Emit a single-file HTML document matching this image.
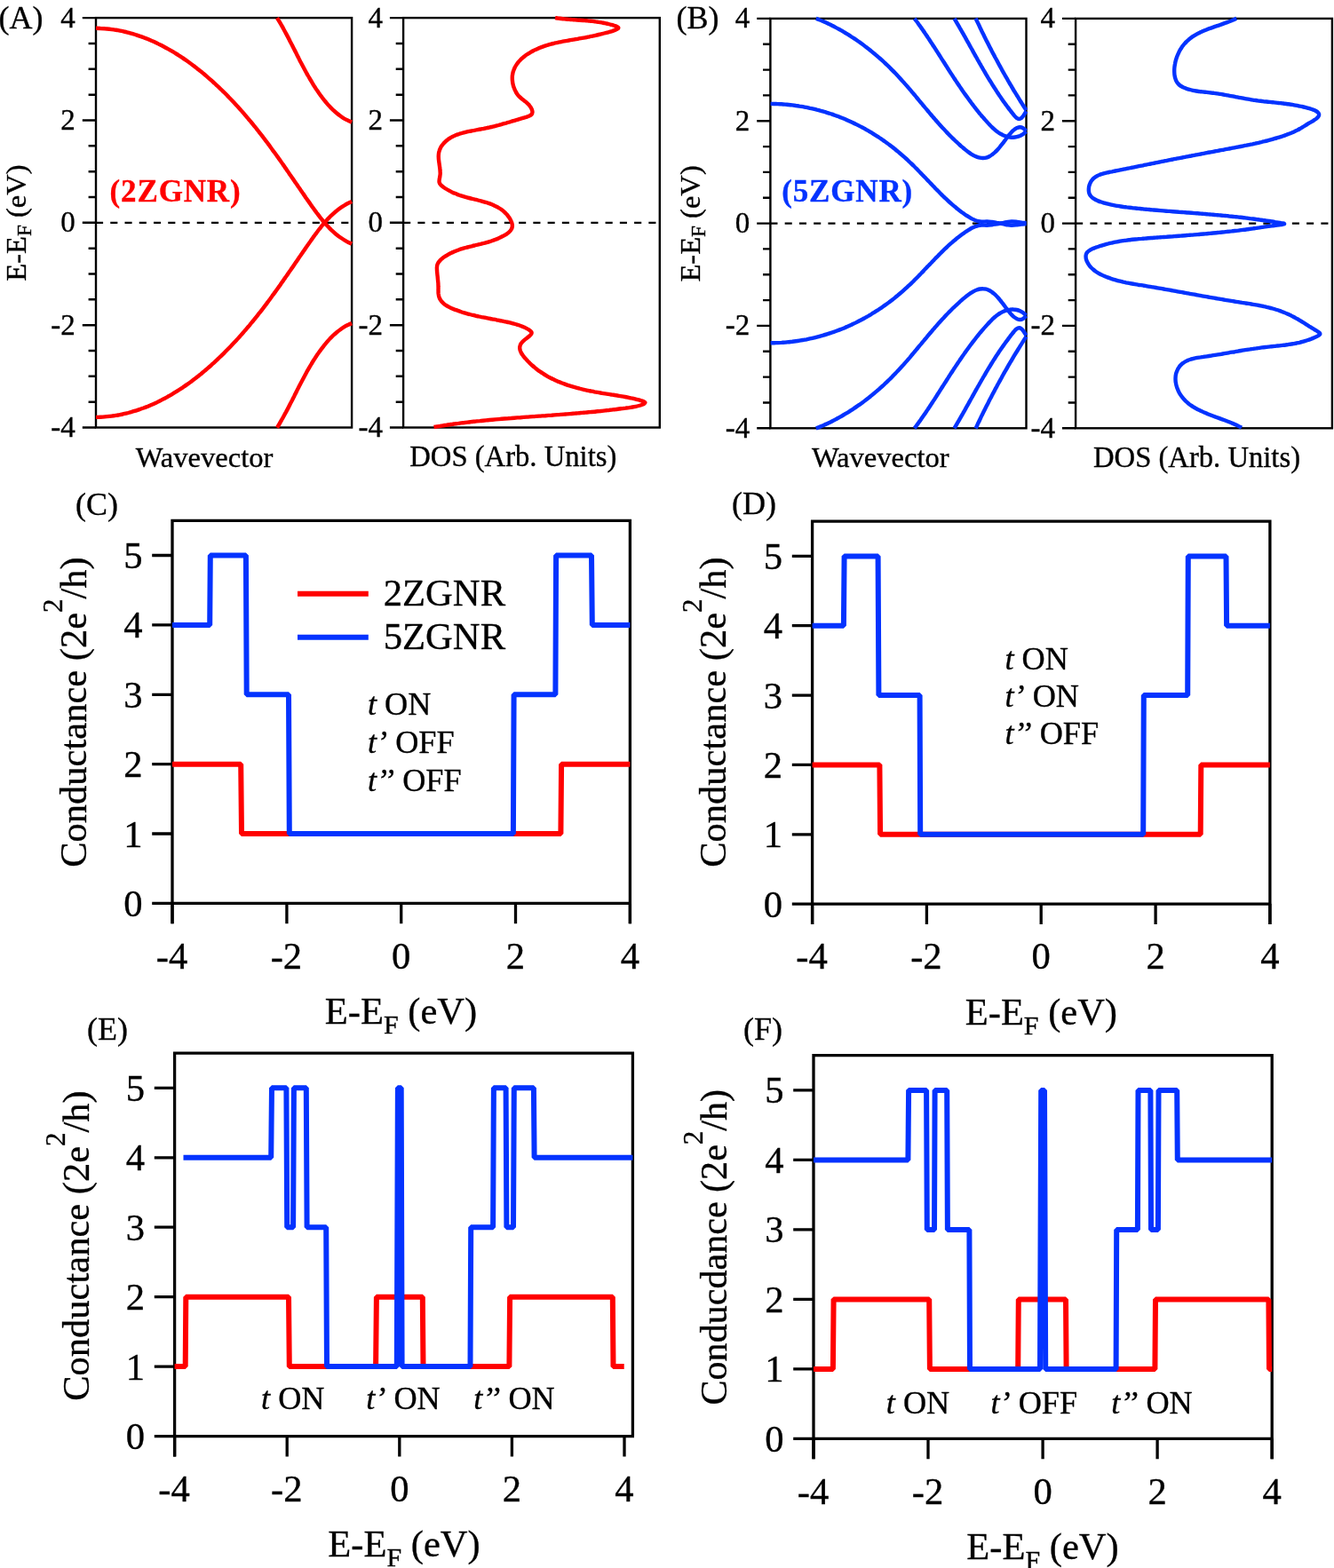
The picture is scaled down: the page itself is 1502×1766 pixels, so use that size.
<!DOCTYPE html>
<html lang="en"><head><meta charset="utf-8"><title>ZGNR band structure, DOS and conductance</title>
<style>html,body{margin:0;padding:0;background:#fff}svg{display:block}text{fill:#000;stroke:#000;stroke-width:0.35px}</style></head><body>
<svg width="1502" height="1766" viewBox="0 0 1502 1766">
<rect width="1502" height="1766" fill="#fff"/>
<path d="M108 250.8H396.1" stroke="#000" stroke-width="2.3" stroke-dasharray="8.1 8.15" fill="none"/>
<path d="M454.1 250.8H742.8" stroke="#000" stroke-width="2.3" stroke-dasharray="8.1 8.15" fill="none"/>
<rect x="108" y="20.1" width="288.1" height="461.4" fill="none" stroke="#000" stroke-width="2.4"/>
<path d="M92.8 20.1H108M99.6 49H108M99.6 77.8H108M99.6 106.7H108M92.8 135.5H108M99.6 164.3H108M99.6 193.2H108M99.6 222H108M92.8 250.8H108M99.6 279.7H108M99.6 308.5H108M99.6 337.3H108M92.8 366.2H108M99.6 395H108M99.6 423.8H108M99.6 452.7H108M92.8 481.5H108" stroke="#000" stroke-width="2.4" fill="none"/>
<text x="84.8" y="30.5" font-family='"Liberation Serif", serif' font-size="33" text-anchor="end" >4</text>
<text x="84.8" y="145.9" font-family='"Liberation Serif", serif' font-size="33" text-anchor="end" >2</text>
<text x="84.8" y="261.2" font-family='"Liberation Serif", serif' font-size="33" text-anchor="end" >0</text>
<text x="84.8" y="376.6" font-family='"Liberation Serif", serif' font-size="33" text-anchor="end" >-2</text>
<text x="84.8" y="491.9" font-family='"Liberation Serif", serif' font-size="33" text-anchor="end" >-4</text>
<rect x="454.1" y="20.1" width="288.7" height="461.4" fill="none" stroke="#000" stroke-width="2.4"/>
<path d="M438.9 20.1H454.1M445.7 49H454.1M445.7 77.8H454.1M445.7 106.7H454.1M438.9 135.5H454.1M445.7 164.3H454.1M445.7 193.2H454.1M445.7 222H454.1M438.9 250.8H454.1M445.7 279.7H454.1M445.7 308.5H454.1M445.7 337.3H454.1M438.9 366.2H454.1M445.7 395H454.1M445.7 423.8H454.1M445.7 452.7H454.1M438.9 481.5H454.1" stroke="#000" stroke-width="2.4" fill="none"/>
<text x="430.9" y="30.5" font-family='"Liberation Serif", serif' font-size="33" text-anchor="end" >4</text>
<text x="430.9" y="145.9" font-family='"Liberation Serif", serif' font-size="33" text-anchor="end" >2</text>
<text x="430.9" y="261.2" font-family='"Liberation Serif", serif' font-size="33" text-anchor="end" >0</text>
<text x="430.9" y="376.6" font-family='"Liberation Serif", serif' font-size="33" text-anchor="end" >-2</text>
<text x="430.9" y="491.9" font-family='"Liberation Serif", serif' font-size="33" text-anchor="end" >-4</text>
<path d="M108 31.8C108.8 31.8 111.4 31.9 113.1 32C114.8 32 116.5 32.1 118.1 32.3C119.8 32.4 121.5 32.6 123.2 32.8C124.8 33 126.5 33.2 128.1 33.4C129.8 33.7 131.4 33.9 133.1 34.2C134.7 34.5 136.3 34.9 138 35.2C139.6 35.6 141.2 35.9 142.8 36.3C144.4 36.7 146 37.2 147.6 37.6C149.2 38 150.8 38.5 152.4 39C153.9 39.5 155.5 40 157.1 40.6C158.6 41.1 160.2 41.7 161.7 42.2C163.3 42.8 164.8 43.4 166.4 44C167.9 44.7 169.4 45.3 171 46C172.5 46.6 174 47.3 175.5 48C177 48.7 178.5 49.5 180 50.2C181.5 50.9 183 51.7 184.4 52.5C185.9 53.3 187.4 54.1 188.8 54.9C190.3 55.7 191.7 56.5 193.2 57.4C194.6 58.2 196.1 59.1 197.5 60C198.9 60.8 200.3 61.7 201.7 62.7C203.1 63.6 204.5 64.5 205.9 65.4C207.3 66.4 208.7 67.3 210.1 68.3C211.5 69.3 212.9 70.3 214.2 71.2C215.6 72.2 216.9 73.3 218.3 74.3C219.6 75.3 221 76.3 222.3 77.4C223.6 78.4 224.9 79.5 226.3 80.5C227.6 81.6 228.9 82.7 230.2 83.8C231.5 84.9 232.7 86 234 87.1C235.3 88.2 236.6 89.3 237.8 90.4C239.1 91.6 240.4 92.7 241.6 93.8C242.8 95 244.1 96.1 245.3 97.3C246.5 98.5 247.7 99.6 249 100.8C250.2 102 251.4 103.1 252.6 104.3C253.8 105.5 254.9 106.7 256.1 107.9C257.3 109.1 258.4 110.3 259.6 111.5C260.8 112.7 261.9 113.9 263 115.1C264.2 116.4 265.3 117.6 266.4 118.8C267.6 120 268.7 121.3 269.8 122.5C270.9 123.7 272 125 273.1 126.2C274.1 127.4 275.2 128.7 276.3 129.9C277.4 131.2 278.4 132.4 279.5 133.7C280.6 134.9 281.6 136.2 282.7 137.5C283.7 138.7 284.8 140 285.8 141.3C286.8 142.6 287.9 143.8 288.9 145.1C289.9 146.4 290.9 147.7 291.9 149C293 150.3 294 151.6 295 152.9C296 154.2 297 155.5 298 156.8C299 158.1 300 159.4 301 160.8C301.9 162.1 302.9 163.4 303.9 164.7C304.9 166.1 305.9 167.4 306.8 168.8C307.8 170.1 308.8 171.4 309.8 172.8C310.7 174.1 311.7 175.5 312.7 176.8C313.6 178.2 314.6 179.6 315.6 180.9C316.5 182.3 317.5 183.7 318.5 185C319.4 186.4 320.4 187.8 321.3 189.2C322.3 190.5 323.2 191.9 324.2 193.3C325.2 194.7 326.1 196.1 327.1 197.5C328 198.8 329 200.2 330 201.6C330.9 203 331.9 204.4 332.8 205.8C333.8 207.2 334.8 208.6 335.7 210C336.7 211.4 337.6 212.8 338.6 214.2C339.6 215.6 340.6 217 341.5 218.4C342.5 219.8 343.5 221.3 344.4 222.7C345.4 224.1 346.4 225.5 347.4 226.9C348.4 228.3 349.4 229.7 350.3 231.1C351.3 232.5 352.3 233.9 353.3 235.3C354.3 236.7 355.4 238.1 356.4 239.5C357.4 240.8 358.4 242.2 359.5 243.5C360.5 244.9 361.6 246.2 362.6 247.5C363.7 248.8 364.8 250.1 365.9 251.4C367 252.6 368.1 253.9 369.2 255.1C370.3 256.3 371.5 257.4 372.6 258.6C373.8 259.7 375 260.8 376.2 261.9C377.4 263 378.6 264 379.9 265C381.1 266 382.4 266.9 383.7 267.8C385 268.7 386.3 269.6 387.7 270.4C389 271.2 390.4 272 391.8 272.7C393.2 273.4 395.4 274.3 396.1 274.6" stroke="#ff0000" stroke-width="4.4" fill="none" stroke-linejoin="round" stroke-linecap="butt"/>
<path d="M108 469.9C108.8 469.9 111.4 469.8 113.1 469.7C114.8 469.7 116.5 469.6 118.1 469.4C119.8 469.3 121.5 469.1 123.2 468.9C124.8 468.7 126.5 468.5 128.1 468.3C129.8 468 131.4 467.8 133.1 467.5C134.7 467.2 136.3 466.8 138 466.5C139.6 466.1 141.2 465.8 142.8 465.4C144.4 465 146 464.5 147.6 464.1C149.2 463.7 150.8 463.2 152.4 462.7C153.9 462.2 155.5 461.7 157.1 461.1C158.6 460.6 160.2 460 161.7 459.5C163.3 458.9 164.8 458.3 166.4 457.7C167.9 457 169.4 456.4 171 455.7C172.5 455.1 174 454.4 175.5 453.7C177 453 178.5 452.2 180 451.5C181.5 450.8 183 450 184.4 449.2C185.9 448.4 187.4 447.6 188.8 446.8C190.3 446 191.7 445.2 193.2 444.3C194.6 443.5 196.1 442.6 197.5 441.7C198.9 440.9 200.3 440 201.7 439C203.1 438.1 204.5 437.2 205.9 436.3C207.3 435.3 208.7 434.4 210.1 433.4C211.5 432.4 212.9 431.4 214.2 430.5C215.6 429.5 216.9 428.4 218.3 427.4C219.6 426.4 221 425.4 222.3 424.3C223.6 423.3 224.9 422.2 226.3 421.2C227.6 420.1 228.9 419 230.2 417.9C231.5 416.8 232.7 415.7 234 414.6C235.3 413.5 236.6 412.4 237.8 411.3C239.1 410.1 240.4 409 241.6 407.9C242.8 406.7 244.1 405.6 245.3 404.4C246.5 403.2 247.7 402.1 249 400.9C250.2 399.7 251.4 398.6 252.6 397.4C253.8 396.2 254.9 395 256.1 393.8C257.3 392.6 258.4 391.4 259.6 390.2C260.8 389 261.9 387.8 263 386.6C264.2 385.3 265.3 384.1 266.4 382.9C267.6 381.7 268.7 380.4 269.8 379.2C270.9 378 272 376.7 273.1 375.5C274.1 374.3 275.2 373 276.3 371.8C277.4 370.5 278.4 369.3 279.5 368C280.6 366.8 281.6 365.5 282.7 364.2C283.7 363 284.8 361.7 285.8 360.4C286.8 359.1 287.9 357.9 288.9 356.6C289.9 355.3 290.9 354 291.9 352.7C293 351.4 294 350.1 295 348.8C296 347.5 297 346.2 298 344.9C299 343.6 300 342.3 301 340.9C301.9 339.6 302.9 338.3 303.9 337C304.9 335.6 305.9 334.3 306.8 332.9C307.8 331.6 308.8 330.3 309.8 328.9C310.7 327.6 311.7 326.2 312.7 324.9C313.6 323.5 314.6 322.1 315.6 320.8C316.5 319.4 317.5 318 318.5 316.7C319.4 315.3 320.4 313.9 321.3 312.5C322.3 311.2 323.2 309.8 324.2 308.4C325.2 307 326.1 305.6 327.1 304.2C328 302.9 329 301.5 330 300.1C330.9 298.7 331.9 297.3 332.8 295.9C333.8 294.5 334.8 293.1 335.7 291.7C336.7 290.3 337.6 288.9 338.6 287.5C339.6 286.1 340.6 284.7 341.5 283.3C342.5 281.9 343.5 280.4 344.4 279C345.4 277.6 346.4 276.2 347.4 274.8C348.4 273.4 349.4 272 350.3 270.6C351.3 269.2 352.3 267.8 353.3 266.4C354.3 265 355.4 263.6 356.4 262.2C357.4 260.9 358.4 259.5 359.5 258.2C360.5 256.8 361.6 255.5 362.6 254.2C363.7 252.9 364.8 251.6 365.9 250.3C367 249.1 368.1 247.8 369.2 246.6C370.3 245.4 371.5 244.3 372.6 243.1C373.8 242 375 240.9 376.2 239.8C377.4 238.7 378.6 237.7 379.9 236.7C381.1 235.7 382.4 234.8 383.7 233.9C385 233 386.3 232.1 387.7 231.3C389 230.5 390.4 229.7 391.8 229C393.2 228.3 395.4 227.4 396.1 227.1" stroke="#ff0000" stroke-width="4.4" fill="none" stroke-linejoin="round" stroke-linecap="butt"/>
<path d="M312 20.1C312.4 20.8 313.8 23 314.6 24.4C315.5 25.9 316.3 27.3 317.1 28.8C318 30.2 318.8 31.7 319.6 33.2C320.4 34.7 321.2 36.2 322 37.6C322.8 39.1 323.6 40.6 324.4 42.1C325.2 43.6 326 45.2 326.7 46.7C327.5 48.2 328.3 49.7 329.1 51.2C329.8 52.7 330.6 54.2 331.4 55.8C332.1 57.3 332.9 58.8 333.7 60.3C334.4 61.9 335.2 63.4 336 64.9C336.7 66.4 337.5 67.9 338.3 69.5C339.1 71 339.9 72.5 340.7 74C341.5 75.5 342.3 77 343.1 78.5C343.9 80 344.7 81.5 345.5 83C346.4 84.5 347.2 86 348.1 87.4C348.9 88.9 349.8 90.4 350.7 91.8C351.5 93.3 352.4 94.8 353.3 96.2C354.3 97.6 355.2 99.1 356.1 100.5C357.1 101.9 358 103.3 359 104.7C360 106.1 361 107.5 362 108.8C363 110.2 364.1 111.6 365.1 112.9C366.2 114.2 367.3 115.5 368.4 116.8C369.5 118.1 370.7 119.4 371.8 120.6C373 121.8 374.2 123 375.4 124.2C376.6 125.3 377.9 126.4 379.2 127.5C380.4 128.5 381.8 129.6 383.1 130.5C384.4 131.5 385.8 132.4 387.2 133.3C388.6 134.1 390.1 134.9 391.6 135.6C393 136.4 395.3 137.3 396.1 137.6" stroke="#ff0000" stroke-width="4.4" fill="none" stroke-linejoin="round" stroke-linecap="butt"/>
<path d="M312 481.6C312.4 480.9 313.8 478.7 314.6 477.3C315.5 475.8 316.3 474.4 317.1 472.9C318 471.5 318.8 470 319.6 468.5C320.4 467 321.2 465.5 322 464.1C322.8 462.6 323.6 461.1 324.4 459.6C325.2 458.1 326 456.5 326.7 455C327.5 453.5 328.3 452 329.1 450.5C329.8 449 330.6 447.5 331.4 445.9C332.1 444.4 332.9 442.9 333.7 441.4C334.4 439.8 335.2 438.3 336 436.8C336.7 435.3 337.5 433.8 338.3 432.2C339.1 430.7 339.9 429.2 340.7 427.7C341.5 426.2 342.3 424.7 343.1 423.2C343.9 421.7 344.7 420.2 345.5 418.7C346.4 417.2 347.2 415.7 348.1 414.3C348.9 412.8 349.8 411.3 350.7 409.9C351.5 408.4 352.4 406.9 353.3 405.5C354.3 404.1 355.2 402.6 356.1 401.2C357.1 399.8 358 398.4 359 397C360 395.6 361 394.2 362 392.9C363 391.5 364.1 390.1 365.1 388.8C366.2 387.5 367.3 386.2 368.4 384.9C369.5 383.6 370.7 382.3 371.8 381.1C373 379.9 374.2 378.7 375.4 377.5C376.6 376.4 377.9 375.3 379.2 374.2C380.4 373.2 381.8 372.1 383.1 371.2C384.4 370.2 385.8 369.3 387.2 368.4C388.6 367.6 390.1 366.8 391.6 366.1C393 365.3 395.3 364.4 396.1 364.1" stroke="#ff0000" stroke-width="4.4" fill="none" stroke-linejoin="round" stroke-linecap="butt"/>
<path d="M625.1 20.1C625.7 20.2 627.4 20.4 628.5 20.6C629.7 20.7 630.8 20.9 632 21C633.1 21.1 634.3 21.3 635.4 21.4C636.6 21.5 637.8 21.6 638.9 21.7C640.1 21.8 641.2 21.9 642.4 22C643.6 22.1 644.7 22.1 645.9 22.2C647.1 22.3 648.2 22.4 649.4 22.5C650.6 22.5 651.8 22.6 652.9 22.7C654.1 22.8 655.3 22.9 656.4 23C657.6 23.1 658.8 23.1 660 23.2C661.1 23.3 662.3 23.5 663.5 23.6C664.7 23.7 665.8 23.8 667 23.9C668.2 24.1 669.3 24.2 670.5 24.4C671.7 24.5 672.8 24.7 674 24.9C675.2 25 676.4 25.2 677.5 25.4C678.7 25.6 679.8 25.9 681 26.1C682.2 26.3 683.3 26.6 684.5 26.9C685.6 27.2 686.8 27.5 688 27.8C689.1 28.1 690.3 28.4 691.4 28.8C692.5 29.2 693.8 29.6 694.7 30C695.5 30.4 696.3 30.8 696.3 31.3C696.4 31.7 695.8 32.2 695.1 32.6C694.4 33 693.4 33.5 692.4 33.9C691.4 34.3 690.3 34.7 689.2 35.1C688 35.5 686.8 35.8 685.6 36.2C684.4 36.5 683.1 36.9 681.8 37.2C680.6 37.5 679.3 37.8 678 38.1C676.7 38.4 675.4 38.7 674.2 39C673 39.3 671.7 39.6 670.6 39.8C669.4 40.1 668.2 40.4 667.1 40.6C666 40.8 664.8 41.1 663.7 41.3C662.6 41.5 661.5 41.8 660.5 42C659.4 42.2 658.3 42.4 657.2 42.6C656.1 42.8 655 43 654 43.2C652.9 43.4 651.8 43.6 650.6 43.8C649.5 44 648.4 44.2 647.3 44.3C646.2 44.5 645 44.7 643.9 44.9C642.8 45.1 641.6 45.3 640.5 45.5C639.4 45.7 638.2 45.9 637.1 46.1C635.9 46.3 634.8 46.5 633.6 46.7C632.5 46.9 631.3 47.2 630.2 47.4C629 47.6 627.9 47.9 626.7 48.2C625.6 48.4 624.4 48.7 623.3 49C622.1 49.2 621 49.5 619.8 49.8C618.7 50.2 617.5 50.5 616.4 50.8C615.3 51.2 614.1 51.5 613 51.9C611.9 52.3 610.8 52.7 609.6 53.1C608.5 53.5 607.4 54 606.3 54.4C605.2 54.9 604.1 55.4 603 55.9C602 56.4 600.9 57 599.8 57.5C598.8 58.1 597.7 58.7 596.7 59.3C595.7 59.9 594.7 60.5 593.7 61.2C592.7 61.8 591.7 62.5 590.8 63.2C589.9 63.9 589 64.7 588.1 65.4C587.3 66.2 586.4 67 585.7 67.8C584.9 68.6 584.1 69.4 583.4 70.3C582.7 71.1 582.1 72 581.5 72.9C580.9 73.8 580.3 74.8 579.8 75.7C579.3 76.7 578.9 77.7 578.5 78.7C578.1 79.7 577.8 80.8 577.5 81.8C577.3 82.9 577.1 84 576.9 85.1C576.8 86.2 576.8 87.4 576.8 88.6C576.8 89.7 576.9 91 577.1 92.2C577.2 93.4 577.5 94.6 577.8 95.9C578.1 97.1 578.5 98.3 579 99.5C579.4 100.7 580 101.9 580.6 103C581.1 104.1 581.8 105.2 582.5 106.2C583.2 107.2 584 108.1 584.8 108.9C585.6 109.7 586.5 110.5 587.4 111.2C588.3 111.9 589.2 112.6 590.1 113.3C590.9 114 591.9 114.7 592.7 115.4C593.6 116.2 594.4 116.9 595.2 117.7C595.9 118.6 596.7 119.5 597.3 120.4C597.9 121.4 598.5 122.4 598.8 123.4C599.2 124.4 599.5 125.4 599.5 126.3C599.4 127.2 599.2 128.1 598.6 128.8C598 129.5 597 130.1 596 130.6C594.9 131.1 593.5 131.5 592.3 131.9C591 132.3 589.7 132.7 588.4 133C587.2 133.4 585.9 133.8 584.7 134.1C583.5 134.5 582.3 134.9 581.1 135.2C580 135.6 578.8 135.9 577.7 136.2C576.5 136.6 575.4 136.9 574.3 137.3C573.2 137.6 572.1 137.9 571 138.2C569.9 138.6 568.8 138.9 567.7 139.2C566.6 139.5 565.5 139.8 564.5 140.1C563.4 140.4 562.3 140.7 561.3 141C560.2 141.3 559.1 141.5 558 141.8C557 142.1 555.9 142.4 554.8 142.6C553.7 142.9 552.6 143.1 551.5 143.4C550.4 143.6 549.3 143.9 548.2 144.1C547.1 144.4 545.9 144.6 544.8 144.8C543.6 145 542.4 145.3 541.3 145.5C540.1 145.7 538.9 145.9 537.7 146.1C536.5 146.3 535.3 146.5 534.1 146.8C532.9 147 531.7 147.2 530.5 147.5C529.3 147.7 528 148 526.9 148.2C525.7 148.5 524.5 148.8 523.3 149.1C522.1 149.4 520.9 149.7 519.8 150C518.6 150.4 517.5 150.7 516.4 151.1C515.2 151.5 514.1 151.9 513.1 152.3C512 152.8 510.9 153.3 509.9 153.8C508.9 154.3 507.9 154.8 506.9 155.4C506 156 505 156.6 504.1 157.3C503.2 157.9 502.4 158.6 501.6 159.4C500.7 160.1 500 160.9 499.3 161.7C498.5 162.5 497.9 163.4 497.3 164.3C496.7 165.2 496.1 166.2 495.7 167.2C495.2 168.2 494.8 169.2 494.5 170.3C494.2 171.3 494 172.4 493.9 173.6C493.8 174.7 493.7 175.9 493.8 177.1C493.8 178.3 493.9 179.5 494.1 180.8C494.2 182 494.4 183.3 494.6 184.5C494.7 185.8 495 187 495.1 188.3C495.3 189.5 495.5 190.8 495.5 192C495.6 193.2 495.7 194.5 495.7 195.6C495.6 196.8 495.4 197.9 495.3 199C495.1 200.1 494.8 201.2 494.7 202.2C494.6 203.2 494.4 204.2 494.6 205.2C494.8 206.1 495.3 207 495.9 207.9C496.6 208.7 497.6 209.5 498.6 210.3C499.6 211.1 500.7 211.8 501.8 212.5C502.9 213.2 504 213.8 505.1 214.4C506.2 215 507.3 215.6 508.3 216.1C509.4 216.7 510.5 217.2 511.6 217.6C512.7 218.1 513.8 218.5 514.9 218.9C516 219.4 517.1 219.7 518.2 220.1C519.3 220.5 520.4 220.8 521.5 221.2C522.6 221.5 523.7 221.8 524.8 222.1C525.9 222.4 527.1 222.7 528.2 223C529.3 223.3 530.4 223.6 531.5 223.8C532.6 224.1 533.7 224.4 534.8 224.7C536 224.9 537.1 225.2 538.2 225.5C539.3 225.8 540.4 226.1 541.6 226.4C542.7 226.7 543.8 227 544.9 227.3C546.1 227.6 547.2 227.9 548.3 228.3C549.4 228.7 550.5 229 551.6 229.4C552.7 229.8 553.8 230.3 554.9 230.7C555.9 231.2 557 231.7 558 232.2C559.1 232.7 560.1 233.2 561.1 233.8C562.1 234.4 563.1 235.1 564.1 235.7C565 236.4 566 237.1 566.9 237.9C567.8 238.7 568.6 239.5 569.5 240.4C570.3 241.3 571.2 242.2 571.9 243.2C572.7 244.1 573.4 245.2 574.1 246.2C574.7 247.3 575.3 248.4 575.7 249.5C576.2 250.5 576.5 251.6 576.7 252.7C576.9 253.7 576.9 254.7 576.7 255.7C576.5 256.7 576.1 257.6 575.6 258.5C575.1 259.4 574.4 260.2 573.6 261C572.9 261.7 571.9 262.5 570.9 263.2C570 263.9 568.9 264.5 567.8 265.1C566.7 265.8 565.6 266.3 564.5 266.9C563.3 267.4 562.2 267.9 561.1 268.4C560 268.9 558.9 269.4 557.8 269.8C556.7 270.2 555.6 270.6 554.5 271C553.4 271.4 552.3 271.8 551.2 272.1C550 272.5 548.9 272.8 547.8 273.1C546.7 273.4 545.6 273.7 544.5 274C543.4 274.3 542.2 274.6 541.1 274.9C540 275.1 538.9 275.4 537.8 275.7C536.6 275.9 535.5 276.2 534.4 276.5C533.3 276.7 532.1 277 531 277.3C529.9 277.5 528.8 277.8 527.7 278.1C526.5 278.4 525.4 278.7 524.3 279C523.2 279.3 522.1 279.6 521 279.9C519.9 280.3 518.7 280.6 517.6 281C516.5 281.4 515.4 281.8 514.3 282.2C513.2 282.6 512.1 283 511 283.5C510 284 508.9 284.5 507.8 285C506.7 285.5 505.6 286.1 504.6 286.7C503.5 287.3 502.4 287.9 501.4 288.6C500.4 289.3 499.3 290 498.4 290.7C497.4 291.5 496.5 292.3 495.7 293.1C494.9 293.9 494.2 294.8 493.6 295.6C493.1 296.5 492.6 297.5 492.3 298.4C492.1 299.4 492 300.4 491.9 301.5C491.9 302.5 492 303.6 492 304.7C492.1 305.8 492.2 306.9 492.3 308.1C492.4 309.3 492.5 310.5 492.7 311.7C492.8 312.9 492.9 314.2 493 315.4C493.2 316.7 493.3 318 493.4 319.2C493.4 320.5 493.5 321.8 493.5 323C493.6 324.3 493.5 325.6 493.5 326.9C493.6 328.1 493.5 329.3 493.6 330.5C493.8 331.7 493.9 332.8 494.2 333.9C494.5 334.9 494.9 335.9 495.4 336.9C495.9 337.8 496.5 338.7 497.2 339.5C497.9 340.3 498.7 341.1 499.5 341.8C500.3 342.5 501.2 343.2 502.2 343.8C503.1 344.4 504.2 345 505.2 345.6C506.2 346.1 507.3 346.7 508.4 347.2C509.5 347.7 510.7 348.1 511.8 348.6C512.9 349 514.1 349.4 515.2 349.8C516.3 350.3 517.4 350.6 518.6 351C519.7 351.4 520.8 351.8 521.9 352.1C523.1 352.4 524.2 352.8 525.3 353.1C526.4 353.4 527.6 353.7 528.7 354C529.8 354.3 530.9 354.6 532 354.8C533.2 355.1 534.3 355.4 535.4 355.6C536.5 355.9 537.7 356.1 538.8 356.4C539.9 356.6 541 356.8 542.2 357.1C543.3 357.3 544.4 357.5 545.5 357.7C546.7 358 547.8 358.2 548.9 358.4C550.1 358.6 551.2 358.8 552.3 359C553.5 359.2 554.6 359.5 555.8 359.7C556.9 359.9 558 360.1 559.2 360.3C560.3 360.5 561.5 360.8 562.6 361C563.8 361.2 565 361.5 566.1 361.7C567.3 361.9 568.4 362.2 569.6 362.4C570.8 362.7 572 362.9 573.1 363.2C574.3 363.5 575.5 363.8 576.6 364.1C577.8 364.4 579 364.7 580.1 365C581.3 365.3 582.4 365.7 583.5 366C584.7 366.4 585.8 366.8 586.9 367.2C588 367.7 589.1 368.1 590.1 368.6C591.2 369.1 592.2 369.6 593.2 370.1C594.2 370.6 595.3 371.2 596.1 371.8C597 372.4 597.9 373.1 598.3 373.8C598.7 374.5 598.7 375.2 598.3 376C598 376.7 597.1 377.6 596.2 378.4C595.4 379.2 594.1 380.1 593 381C591.9 381.8 590.7 382.7 589.7 383.6C588.7 384.5 587.8 385.4 587.1 386.3C586.4 387.3 585.9 388.2 585.6 389.2C585.3 390.1 585.2 391.1 585.2 392.1C585.3 393 585.5 394 585.8 395C586.2 396 586.6 397 587.2 398C587.8 399 588.5 399.9 589.2 400.9C589.9 401.9 590.7 402.8 591.5 403.7C592.3 404.7 593.2 405.6 594 406.5C594.9 407.4 595.7 408.2 596.6 409.1C597.5 409.9 598.3 410.7 599.2 411.5C600.1 412.3 601 413.1 602 413.9C602.9 414.6 603.8 415.4 604.7 416.1C605.7 416.8 606.6 417.5 607.6 418.2C608.5 418.8 609.5 419.5 610.5 420.1C611.4 420.8 612.4 421.4 613.4 422C614.4 422.6 615.4 423.2 616.4 423.8C617.4 424.4 618.4 424.9 619.5 425.5C620.5 426 621.5 426.5 622.6 427C623.6 427.5 624.7 428 625.7 428.5C626.8 429 627.8 429.4 628.9 429.9C630 430.3 631 430.8 632.1 431.2C633.2 431.6 634.3 432 635.4 432.4C636.4 432.8 637.5 433.2 638.6 433.6C639.7 434 640.9 434.3 642 434.7C643.1 435 644.2 435.4 645.3 435.7C646.4 436 647.5 436.3 648.7 436.6C649.8 436.9 650.9 437.2 652.1 437.5C653.2 437.8 654.3 438.1 655.5 438.4C656.6 438.6 657.7 438.9 658.9 439.2C660 439.4 661.2 439.7 662.3 439.9C663.5 440.1 664.6 440.4 665.8 440.6C666.9 440.8 668.1 441 669.2 441.3C670.4 441.5 671.5 441.7 672.7 441.9C673.8 442.1 675 442.3 676.1 442.5C677.3 442.7 678.4 442.9 679.6 443.1C680.7 443.3 681.9 443.5 683 443.6C684.2 443.8 685.3 444 686.5 444.2C687.6 444.4 688.8 444.5 689.9 444.7C691.1 444.9 692.2 445.1 693.3 445.2C694.5 445.4 695.6 445.6 696.8 445.8C697.9 446 699.1 446.2 700.2 446.4C701.4 446.6 702.5 446.8 703.7 447C704.8 447.2 706 447.4 707.2 447.6C708.3 447.9 709.5 448.1 710.7 448.4C711.8 448.6 713 448.9 714.2 449.2C715.4 449.5 716.6 449.8 717.8 450.1C719 450.4 720.3 450.7 721.4 451.1C722.6 451.4 723.9 451.8 724.8 452.2C725.6 452.6 726.3 453 726.4 453.4C726.5 453.8 725.9 454.3 725.2 454.8C724.6 455.2 723.5 455.6 722.5 456C721.5 456.4 720.4 456.7 719.3 457C718.2 457.3 717 457.6 715.8 457.8C714.6 458.1 713.4 458.3 712.1 458.5C710.8 458.7 709.6 458.9 708.3 459.1C707 459.2 705.8 459.4 704.5 459.6C703.3 459.7 702 459.9 700.8 460.1C699.6 460.2 698.3 460.4 697.1 460.5C695.9 460.7 694.7 460.8 693.6 461C692.4 461.1 691.2 461.3 690 461.4C688.9 461.6 687.7 461.7 686.5 461.8C685.4 462 684.2 462.1 683.1 462.2C681.9 462.4 680.8 462.5 679.7 462.6C678.5 462.7 677.4 462.8 676.2 463C675.1 463.1 674 463.2 672.8 463.3C671.7 463.4 670.5 463.6 669.4 463.7C668.2 463.8 667.1 463.9 666 464C664.8 464.1 663.7 464.2 662.5 464.3C661.4 464.4 660.2 464.5 659.1 464.6C657.9 464.7 656.8 464.8 655.6 464.9C654.5 465 653.3 465.1 652.2 465.2C651 465.3 649.9 465.4 648.7 465.5C647.6 465.6 646.4 465.7 645.3 465.8C644.1 465.9 643 466 641.8 466.1C640.7 466.2 639.5 466.3 638.3 466.4C637.2 466.5 636 466.5 634.9 466.6C633.7 466.7 632.5 466.8 631.4 466.9C630.2 467 629.1 467.1 627.9 467.1C626.8 467.2 625.6 467.3 624.4 467.4C623.3 467.5 622.1 467.6 620.9 467.7C619.8 467.7 618.6 467.8 617.5 467.9C616.3 468 615.1 468.1 614 468.2C612.8 468.2 611.6 468.3 610.5 468.4C609.3 468.5 608.1 468.6 607 468.6C605.8 468.7 604.6 468.8 603.5 468.9C602.3 469 601.1 469.1 600 469.1C598.8 469.2 597.6 469.3 596.5 469.4C595.3 469.5 594.1 469.6 593 469.6C591.8 469.7 590.6 469.8 589.5 469.9C588.3 470 587.1 470.1 586 470.2C584.8 470.2 583.6 470.3 582.5 470.4C581.3 470.5 580.1 470.6 579 470.7C577.8 470.8 576.6 470.9 575.5 471C574.3 471 573.1 471.1 572 471.2C570.8 471.3 569.6 471.4 568.5 471.5C567.3 471.6 566.1 471.7 565 471.8C563.8 471.9 562.6 472 561.5 472.1C560.3 472.2 559.1 472.3 558 472.4C556.8 472.5 555.6 472.6 554.5 472.7C553.3 472.8 552.1 472.9 551 473C549.8 473.1 548.6 473.3 547.5 473.4C546.3 473.5 545.1 473.6 544 473.7C542.8 473.8 541.6 473.9 540.5 474.1C539.3 474.2 538.1 474.3 537 474.4C535.8 474.5 534.7 474.7 533.5 474.8C532.3 474.9 531.2 475 530 475.2C528.9 475.3 527.7 475.4 526.5 475.6C525.4 475.7 524.2 475.8 523.1 476C521.9 476.1 520.7 476.3 519.6 476.4C518.4 476.6 517.3 476.7 516.1 476.9C515 477 513.8 477.2 512.6 477.3C511.5 477.5 510.3 477.6 509.2 477.8C508 478 506.9 478.1 505.7 478.3C504.6 478.4 503.4 478.6 502.3 478.8C501.1 479 500 479.1 498.8 479.3C497.7 479.5 496.5 479.7 495.4 479.9C494.2 480 493.1 480.2 491.9 480.4C490.8 480.6 489.1 480.9 488.5 481" stroke="#ff0000" stroke-width="4.4" fill="none" stroke-linejoin="round" stroke-linecap="butt"/>
<text x="-1.5" y="32.2" font-family='"Liberation Serif", serif' font-size="36" text-anchor="start" >(A)</text>
<text x="123.6" y="226.7" font-family='"Liberation Serif", serif' font-size="35" text-anchor="start" letter-spacing="0.85" font-weight="bold" style="fill:#ff0000;stroke:#ff0000">(2ZGNR)</text>
<text x="230.1" y="525.5" font-family='"Liberation Serif", serif' font-size="32.6" text-anchor="middle" >Wavevector</text>
<text x="577.8" y="525.4" font-family='"Liberation Serif", serif' font-size="32.65" text-anchor="middle" >DOS (Arb. Units)</text>
<text transform="translate(29 251) rotate(-90)" font-family='"Liberation Serif", serif' font-size="32.6" text-anchor="middle">E-E<tspan font-size="23" dy="6.3">F</tspan><tspan dy="-6.3"> (eV)</tspan></text>
<path d="M867.4 251.6H1155.5" stroke="#000" stroke-width="2.3" stroke-dasharray="8.1 8.15" fill="none"/>
<path d="M1211.1 251.6H1499.9" stroke="#000" stroke-width="2.3" stroke-dasharray="8.1 8.15" fill="none"/>
<rect x="867.4" y="20.9" width="288.1" height="461.4" fill="none" stroke="#000" stroke-width="2.4"/>
<path d="M852.2 20.9H867.4M859 49.7H867.4M859 78.6H867.4M859 107.4H867.4M852.2 136.2H867.4M859 165.1H867.4M859 193.9H867.4M859 222.8H867.4M852.2 251.6H867.4M859 280.4H867.4M859 309.3H867.4M859 338.1H867.4M852.2 366.9H867.4M859 395.8H867.4M859 424.6H867.4M859 453.5H867.4M852.2 482.3H867.4" stroke="#000" stroke-width="2.4" fill="none"/>
<text x="844.2" y="31.3" font-family='"Liberation Serif", serif' font-size="33" text-anchor="end" >4</text>
<text x="844.2" y="146.7" font-family='"Liberation Serif", serif' font-size="33" text-anchor="end" >2</text>
<text x="844.2" y="262" font-family='"Liberation Serif", serif' font-size="33" text-anchor="end" >0</text>
<text x="844.2" y="377.3" font-family='"Liberation Serif", serif' font-size="33" text-anchor="end" >-2</text>
<text x="844.2" y="492.7" font-family='"Liberation Serif", serif' font-size="33" text-anchor="end" >-4</text>
<rect x="1211.1" y="20.9" width="288.8" height="461.4" fill="none" stroke="#000" stroke-width="2.4"/>
<path d="M1195.9 20.9H1211.1M1202.7 49.7H1211.1M1202.7 78.6H1211.1M1202.7 107.4H1211.1M1195.9 136.2H1211.1M1202.7 165.1H1211.1M1202.7 193.9H1211.1M1202.7 222.8H1211.1M1195.9 251.6H1211.1M1202.7 280.4H1211.1M1202.7 309.3H1211.1M1202.7 338.1H1211.1M1195.9 366.9H1211.1M1202.7 395.8H1211.1M1202.7 424.6H1211.1M1202.7 453.5H1211.1M1195.9 482.3H1211.1" stroke="#000" stroke-width="2.4" fill="none"/>
<text x="1187.9" y="31.3" font-family='"Liberation Serif", serif' font-size="33" text-anchor="end" >4</text>
<text x="1187.9" y="146.7" font-family='"Liberation Serif", serif' font-size="33" text-anchor="end" >2</text>
<text x="1187.9" y="262" font-family='"Liberation Serif", serif' font-size="33" text-anchor="end" >0</text>
<text x="1187.9" y="377.3" font-family='"Liberation Serif", serif' font-size="33" text-anchor="end" >-2</text>
<text x="1187.9" y="492.7" font-family='"Liberation Serif", serif' font-size="33" text-anchor="end" >-4</text>
<path d="M918.8 20.8C919.4 21 921.2 21.7 922.4 22.2C923.7 22.7 924.9 23.2 926.1 23.7C927.3 24.2 928.5 24.8 929.7 25.3C930.9 25.8 932.1 26.4 933.3 27C934.5 27.5 935.7 28.1 936.8 28.7C938 29.3 939.2 29.9 940.4 30.6C941.6 31.2 942.8 31.8 943.9 32.5C945.1 33.1 946.3 33.8 947.4 34.4C948.6 35.1 949.8 35.8 950.9 36.5C952.1 37.2 953.2 37.9 954.4 38.6C955.5 39.3 956.7 40 957.8 40.8C959 41.5 960.1 42.2 961.2 43C962.4 43.7 963.5 44.5 964.6 45.3C965.7 46.1 966.8 46.8 968 47.6C969.1 48.4 970.2 49.2 971.3 50C972.4 50.8 973.5 51.7 974.5 52.5C975.6 53.3 976.7 54.2 977.8 55C978.9 55.8 979.9 56.7 981 57.6C982 58.4 983.1 59.3 984.2 60.2C985.2 61 986.2 61.9 987.3 62.8C988.3 63.7 989.3 64.6 990.4 65.5C991.4 66.4 992.4 67.3 993.4 68.2C994.4 69.1 995.4 70 996.4 71C997.4 71.9 998.4 72.8 999.4 73.8C1000.3 74.7 1001.3 75.7 1002.3 76.6C1003.2 77.5 1004.2 78.5 1005.1 79.5C1006.1 80.4 1007 81.4 1007.9 82.3C1008.9 83.3 1009.8 84.3 1010.7 85.3C1011.6 86.2 1012.5 87.2 1013.4 88.2C1014.3 89.2 1015.2 90.2 1016.1 91.2C1017 92.1 1017.9 93.1 1018.7 94.1C1019.6 95.1 1020.5 96.1 1021.4 97.1C1022.2 98.1 1023.1 99.1 1024 100.1C1024.8 101.1 1025.7 102.1 1026.5 103.2C1027.4 104.2 1028.2 105.2 1029.1 106.2C1029.9 107.2 1030.8 108.2 1031.6 109.2C1032.5 110.2 1033.3 111.2 1034.1 112.3C1035 113.3 1035.8 114.3 1036.7 115.3C1037.5 116.3 1038.4 117.3 1039.2 118.4C1040 119.4 1040.9 120.4 1041.7 121.4C1042.6 122.4 1043.4 123.4 1044.3 124.4C1045.1 125.5 1046 126.5 1046.8 127.5C1047.7 128.5 1048.5 129.5 1049.4 130.5C1050.3 131.5 1051.1 132.5 1052 133.5C1052.9 134.5 1053.7 135.5 1054.6 136.5C1055.5 137.5 1056.4 138.5 1057.2 139.5C1058.1 140.5 1059 141.5 1059.9 142.5C1060.8 143.5 1061.7 144.5 1062.7 145.4C1063.6 146.4 1064.5 147.4 1065.4 148.4C1066.3 149.3 1067.3 150.3 1068.2 151.3C1069.2 152.2 1070.1 153.2 1071.1 154.2C1072 155.1 1073 156.1 1074 157C1075 158 1076 158.9 1077 159.8C1078 160.8 1079 161.7 1080 162.6C1081 163.6 1082.1 164.5 1083.1 165.4C1084.2 166.3 1085.2 167.2 1086.3 168.1C1087.4 169 1088.5 169.9 1089.6 170.7C1090.7 171.5 1091.8 172.3 1092.9 173.1C1094 173.8 1095.2 174.5 1096.3 175.1C1097.4 175.7 1098.6 176.3 1099.8 176.7C1101 177.1 1102.1 177.5 1103.3 177.7C1104.5 177.9 1105.7 178.1 1106.9 178C1108.1 178 1109.2 177.9 1110.4 177.6C1111.6 177.3 1112.7 176.8 1113.8 176.2C1114.9 175.6 1116.1 174.9 1117.1 174.1C1118.2 173.3 1119.3 172.3 1120.4 171.4C1121.4 170.4 1122.5 169.3 1123.5 168.2C1124.5 167.1 1125.5 165.9 1126.4 164.7C1127.4 163.5 1128.3 162.3 1129.3 161.1C1130.2 159.9 1131.1 158.7 1132 157.5C1132.8 156.3 1133.7 155.1 1134.5 154C1135.4 152.9 1136.2 151.9 1137.1 150.9C1138 149.9 1138.8 148.9 1139.7 148C1140.6 147.2 1141.4 146.4 1142.4 145.7C1143.3 145.1 1144.2 144.5 1145.2 144C1146.2 143.6 1147.2 143.2 1148.3 143.2C1149.4 143.2 1150.5 143.4 1151.7 144.1C1152.9 144.8 1154.9 146.9 1155.5 147.5" stroke="#0433ff" stroke-width="4.4" fill="none" stroke-linejoin="round" stroke-linecap="butt"/>
<path d="M918.8 482.4C919.4 482.2 921.2 481.5 922.4 481C923.7 480.5 924.9 480 926.1 479.5C927.3 479 928.5 478.4 929.7 477.9C930.9 477.4 932.1 476.8 933.3 476.2C934.5 475.7 935.7 475.1 936.8 474.5C938 473.9 939.2 473.3 940.4 472.6C941.6 472 942.8 471.4 943.9 470.7C945.1 470.1 946.3 469.4 947.4 468.8C948.6 468.1 949.8 467.4 950.9 466.7C952.1 466 953.2 465.3 954.4 464.6C955.5 463.9 956.7 463.2 957.8 462.4C959 461.7 960.1 461 961.2 460.2C962.4 459.5 963.5 458.7 964.6 457.9C965.7 457.1 966.8 456.4 968 455.6C969.1 454.8 970.2 454 971.3 453.2C972.4 452.4 973.5 451.5 974.5 450.7C975.6 449.9 976.7 449 977.8 448.2C978.9 447.4 979.9 446.5 981 445.6C982 444.8 983.1 443.9 984.2 443C985.2 442.2 986.2 441.3 987.3 440.4C988.3 439.5 989.3 438.6 990.4 437.7C991.4 436.8 992.4 435.9 993.4 435C994.4 434.1 995.4 433.2 996.4 432.2C997.4 431.3 998.4 430.4 999.4 429.4C1000.3 428.5 1001.3 427.5 1002.3 426.6C1003.2 425.7 1004.2 424.7 1005.1 423.7C1006.1 422.8 1007 421.8 1007.9 420.9C1008.9 419.9 1009.8 418.9 1010.7 417.9C1011.6 417 1012.5 416 1013.4 415C1014.3 414 1015.2 413 1016.1 412C1017 411.1 1017.9 410.1 1018.7 409.1C1019.6 408.1 1020.5 407.1 1021.4 406.1C1022.2 405.1 1023.1 404.1 1024 403.1C1024.8 402.1 1025.7 401.1 1026.5 400C1027.4 399 1028.2 398 1029.1 397C1029.9 396 1030.8 395 1031.6 394C1032.5 393 1033.3 392 1034.1 390.9C1035 389.9 1035.8 388.9 1036.7 387.9C1037.5 386.9 1038.4 385.9 1039.2 384.8C1040 383.8 1040.9 382.8 1041.7 381.8C1042.6 380.8 1043.4 379.8 1044.3 378.8C1045.1 377.7 1046 376.7 1046.8 375.7C1047.7 374.7 1048.5 373.7 1049.4 372.7C1050.3 371.7 1051.1 370.7 1052 369.7C1052.9 368.7 1053.7 367.7 1054.6 366.7C1055.5 365.7 1056.4 364.7 1057.2 363.7C1058.1 362.7 1059 361.7 1059.9 360.7C1060.8 359.7 1061.7 358.7 1062.7 357.8C1063.6 356.8 1064.5 355.8 1065.4 354.8C1066.3 353.9 1067.3 352.9 1068.2 351.9C1069.2 351 1070.1 350 1071.1 349C1072 348.1 1073 347.1 1074 346.2C1075 345.2 1076 344.3 1077 343.4C1078 342.4 1079 341.5 1080 340.6C1081 339.6 1082.1 338.7 1083.1 337.8C1084.2 336.9 1085.2 336 1086.3 335.1C1087.4 334.2 1088.5 333.3 1089.6 332.5C1090.7 331.7 1091.8 330.9 1092.9 330.1C1094 329.4 1095.2 328.7 1096.3 328.1C1097.4 327.5 1098.6 326.9 1099.8 326.5C1101 326.1 1102.1 325.7 1103.3 325.5C1104.5 325.3 1105.7 325.1 1106.9 325.2C1108.1 325.2 1109.2 325.3 1110.4 325.6C1111.6 325.9 1112.7 326.4 1113.8 327C1114.9 327.6 1116.1 328.3 1117.1 329.1C1118.2 329.9 1119.3 330.9 1120.4 331.8C1121.4 332.8 1122.5 333.9 1123.5 335C1124.5 336.1 1125.5 337.3 1126.4 338.5C1127.4 339.7 1128.3 340.9 1129.3 342.1C1130.2 343.3 1131.1 344.5 1132 345.7C1132.8 346.9 1133.7 348.1 1134.5 349.2C1135.4 350.3 1136.2 351.3 1137.1 352.3C1138 353.3 1138.8 354.3 1139.7 355.2C1140.6 356 1141.4 356.8 1142.4 357.5C1143.3 358.1 1144.2 358.7 1145.2 359.2C1146.2 359.6 1147.2 360 1148.3 360C1149.4 360 1150.5 359.8 1151.7 359.1C1152.9 358.4 1154.9 356.3 1155.5 355.7" stroke="#0433ff" stroke-width="4.4" fill="none" stroke-linejoin="round" stroke-linecap="butt"/>
<path d="M1029.6 20.8C1030 21.3 1031.2 22.9 1032 24C1032.8 25 1033.6 26.1 1034.3 27.2C1035.1 28.3 1035.9 29.4 1036.7 30.5C1037.4 31.6 1038.2 32.7 1039 33.8C1039.7 34.9 1040.5 36 1041.3 37.1C1042 38.2 1042.8 39.3 1043.5 40.4C1044.3 41.5 1045 42.7 1045.8 43.8C1046.5 44.9 1047.3 46.1 1048 47.2C1048.8 48.3 1049.5 49.5 1050.2 50.6C1051 51.7 1051.7 52.9 1052.5 54C1053.2 55.2 1053.9 56.3 1054.7 57.5C1055.4 58.6 1056.1 59.8 1056.9 60.9C1057.6 62.1 1058.3 63.2 1059.1 64.4C1059.8 65.5 1060.5 66.7 1061.3 67.8C1062 69 1062.8 70.1 1063.5 71.3C1064.2 72.4 1065 73.6 1065.7 74.7C1066.4 75.9 1067.2 77 1067.9 78.2C1068.7 79.4 1069.4 80.5 1070.1 81.7C1070.9 82.8 1071.6 84 1072.4 85.1C1073.1 86.3 1073.9 87.4 1074.6 88.6C1075.4 89.7 1076.1 90.8 1076.9 92C1077.7 93.1 1078.4 94.3 1079.2 95.4C1080 96.5 1080.7 97.7 1081.5 98.8C1082.3 99.9 1083 101.1 1083.8 102.2C1084.6 103.3 1085.4 104.4 1086.2 105.6C1087 106.7 1087.8 107.8 1088.6 108.9C1089.4 110 1090.2 111.1 1091 112.2C1091.8 113.3 1092.6 114.4 1093.4 115.5C1094.2 116.6 1095.1 117.7 1095.9 118.8C1096.7 119.9 1097.6 120.9 1098.4 122C1099.2 123.1 1100.1 124.2 1101 125.2C1101.8 126.3 1102.7 127.3 1103.5 128.4C1104.4 129.4 1105.3 130.5 1106.2 131.5C1107.1 132.5 1108 133.6 1108.9 134.6C1109.8 135.6 1110.7 136.6 1111.6 137.6C1112.5 138.6 1113.4 139.6 1114.4 140.6C1115.3 141.6 1116.2 142.5 1117.2 143.5C1118.2 144.4 1119.2 145.3 1120.2 146.2C1121.2 147 1122.2 147.9 1123.3 148.6C1124.3 149.4 1125.4 150.1 1126.5 150.7C1127.6 151.4 1128.8 152 1129.9 152.5C1131.1 153 1132.3 153.4 1133.5 153.8C1134.7 154.1 1136 154.4 1137.2 154.5C1138.5 154.7 1139.7 154.8 1141 154.7C1142.2 154.7 1143.5 154.5 1144.7 154.2C1146 153.9 1147.3 153.5 1148.5 153C1149.7 152.4 1150.9 151.8 1152.1 150.9C1153.3 150.1 1154.9 148.5 1155.5 148" stroke="#0433ff" stroke-width="4.4" fill="none" stroke-linejoin="round" stroke-linecap="butt"/>
<path d="M1029.6 482.4C1030 481.9 1031.2 480.3 1032 479.2C1032.8 478.2 1033.6 477.1 1034.3 476C1035.1 474.9 1035.9 473.8 1036.7 472.7C1037.4 471.6 1038.2 470.5 1039 469.4C1039.7 468.3 1040.5 467.2 1041.3 466.1C1042 465 1042.8 463.9 1043.5 462.8C1044.3 461.7 1045 460.5 1045.8 459.4C1046.5 458.3 1047.3 457.1 1048 456C1048.8 454.9 1049.5 453.7 1050.2 452.6C1051 451.5 1051.7 450.3 1052.5 449.2C1053.2 448 1053.9 446.9 1054.7 445.7C1055.4 444.6 1056.1 443.4 1056.9 442.3C1057.6 441.1 1058.3 440 1059.1 438.8C1059.8 437.7 1060.5 436.5 1061.3 435.4C1062 434.2 1062.8 433.1 1063.5 431.9C1064.2 430.8 1065 429.6 1065.7 428.5C1066.4 427.3 1067.2 426.2 1067.9 425C1068.7 423.8 1069.4 422.7 1070.1 421.5C1070.9 420.4 1071.6 419.2 1072.4 418.1C1073.1 416.9 1073.9 415.8 1074.6 414.6C1075.4 413.5 1076.1 412.4 1076.9 411.2C1077.7 410.1 1078.4 408.9 1079.2 407.8C1080 406.7 1080.7 405.5 1081.5 404.4C1082.3 403.3 1083 402.1 1083.8 401C1084.6 399.9 1085.4 398.8 1086.2 397.6C1087 396.5 1087.8 395.4 1088.6 394.3C1089.4 393.2 1090.2 392.1 1091 391C1091.8 389.9 1092.6 388.8 1093.4 387.7C1094.2 386.6 1095.1 385.5 1095.9 384.4C1096.7 383.3 1097.6 382.3 1098.4 381.2C1099.2 380.1 1100.1 379 1101 378C1101.8 376.9 1102.7 375.9 1103.5 374.8C1104.4 373.8 1105.3 372.7 1106.2 371.7C1107.1 370.7 1108 369.6 1108.9 368.6C1109.8 367.6 1110.7 366.6 1111.6 365.6C1112.5 364.6 1113.4 363.6 1114.4 362.6C1115.3 361.6 1116.2 360.7 1117.2 359.7C1118.2 358.8 1119.2 357.9 1120.2 357C1121.2 356.2 1122.2 355.3 1123.3 354.6C1124.3 353.8 1125.4 353.1 1126.5 352.5C1127.6 351.8 1128.8 351.2 1129.9 350.7C1131.1 350.2 1132.3 349.8 1133.5 349.4C1134.7 349.1 1136 348.8 1137.2 348.7C1138.5 348.5 1139.7 348.4 1141 348.5C1142.2 348.5 1143.5 348.7 1144.7 349C1146 349.3 1147.3 349.7 1148.5 350.2C1149.7 350.8 1150.9 351.4 1152.1 352.3C1153.3 353.1 1154.9 354.7 1155.5 355.2" stroke="#0433ff" stroke-width="4.4" fill="none" stroke-linejoin="round" stroke-linecap="butt"/>
<path d="M1074.5 20.8C1074.8 21.3 1075.9 23 1076.5 24.2C1077.2 25.3 1077.9 26.5 1078.5 27.7C1079.2 28.8 1079.9 30 1080.5 31.1C1081.2 32.3 1081.9 33.4 1082.5 34.6C1083.2 35.8 1083.8 36.9 1084.5 38.1C1085.1 39.3 1085.8 40.4 1086.5 41.6C1087.1 42.8 1087.8 43.9 1088.4 45.1C1089.1 46.3 1089.7 47.4 1090.4 48.6C1091 49.8 1091.7 51 1092.3 52.1C1093 53.3 1093.6 54.5 1094.3 55.6C1094.9 56.8 1095.6 58 1096.2 59.1C1096.9 60.3 1097.6 61.5 1098.2 62.7C1098.9 63.8 1099.5 65 1100.2 66.2C1100.8 67.3 1101.5 68.5 1102.2 69.7C1102.8 70.8 1103.5 72 1104.2 73.2C1104.8 74.3 1105.5 75.5 1106.2 76.7C1106.8 77.8 1107.5 79 1108.2 80.1C1108.9 81.3 1109.6 82.5 1110.2 83.6C1110.9 84.8 1111.6 85.9 1112.3 87.1C1113 88.2 1113.7 89.4 1114.4 90.5C1115.1 91.6 1115.8 92.8 1116.5 93.9C1117.2 95.1 1117.9 96.2 1118.6 97.3C1119.4 98.5 1120.1 99.6 1120.8 100.7C1121.5 101.9 1122.3 103 1123 104.1C1123.8 105.2 1124.5 106.3 1125.2 107.5C1126 108.6 1126.8 109.7 1127.5 110.8C1128.3 111.9 1129 113 1129.8 114.1C1130.6 115.2 1131.4 116.3 1132.2 117.4C1133 118.5 1133.8 119.5 1134.6 120.6C1135.4 121.7 1136.2 122.8 1137 123.8C1137.8 124.9 1138.7 126 1139.5 127C1140.3 128.1 1141.2 129.2 1142 130.2C1142.9 131.1 1143.7 132.2 1144.6 132.8C1145.5 133.5 1146.4 134 1147.2 134C1148.1 134.1 1149 133.7 1149.9 133C1150.8 132.2 1151.8 131 1152.7 129.7C1153.6 128.4 1155 125.9 1155.5 125.2" stroke="#0433ff" stroke-width="4.4" fill="none" stroke-linejoin="round" stroke-linecap="butt"/>
<path d="M1074.5 482.4C1074.8 481.9 1075.9 480.2 1076.5 479C1077.2 477.9 1077.9 476.7 1078.5 475.5C1079.2 474.4 1079.9 473.2 1080.5 472.1C1081.2 470.9 1081.9 469.8 1082.5 468.6C1083.2 467.4 1083.8 466.3 1084.5 465.1C1085.1 463.9 1085.8 462.8 1086.5 461.6C1087.1 460.4 1087.8 459.3 1088.4 458.1C1089.1 456.9 1089.7 455.8 1090.4 454.6C1091 453.4 1091.7 452.2 1092.3 451.1C1093 449.9 1093.6 448.7 1094.3 447.6C1094.9 446.4 1095.6 445.2 1096.2 444.1C1096.9 442.9 1097.6 441.7 1098.2 440.5C1098.9 439.4 1099.5 438.2 1100.2 437C1100.8 435.9 1101.5 434.7 1102.2 433.5C1102.8 432.4 1103.5 431.2 1104.2 430C1104.8 428.9 1105.5 427.7 1106.2 426.5C1106.8 425.4 1107.5 424.2 1108.2 423.1C1108.9 421.9 1109.6 420.7 1110.2 419.6C1110.9 418.4 1111.6 417.3 1112.3 416.1C1113 415 1113.7 413.8 1114.4 412.7C1115.1 411.6 1115.8 410.4 1116.5 409.3C1117.2 408.1 1117.9 407 1118.6 405.9C1119.4 404.7 1120.1 403.6 1120.8 402.5C1121.5 401.3 1122.3 400.2 1123 399.1C1123.8 398 1124.5 396.9 1125.2 395.7C1126 394.6 1126.8 393.5 1127.5 392.4C1128.3 391.3 1129 390.2 1129.8 389.1C1130.6 388 1131.4 386.9 1132.2 385.8C1133 384.7 1133.8 383.7 1134.6 382.6C1135.4 381.5 1136.2 380.4 1137 379.4C1137.8 378.3 1138.7 377.2 1139.5 376.2C1140.3 375.1 1141.2 374 1142 373C1142.9 372.1 1143.7 371 1144.6 370.4C1145.5 369.7 1146.4 369.2 1147.2 369.2C1148.1 369.1 1149 369.5 1149.9 370.2C1150.8 371 1151.8 372.2 1152.7 373.5C1153.6 374.8 1155 377.3 1155.5 378" stroke="#0433ff" stroke-width="4.4" fill="none" stroke-linejoin="round" stroke-linecap="butt"/>
<path d="M1098.6 20.7C1098.9 21.4 1099.8 23.2 1100.3 24.4C1100.9 25.7 1101.5 26.9 1102.1 28.1C1102.7 29.3 1103.2 30.6 1103.8 31.8C1104.4 33 1105 34.2 1105.6 35.5C1106.2 36.7 1106.8 37.9 1107.4 39.1C1108 40.3 1108.6 41.6 1109.2 42.8C1109.8 44 1110.4 45.2 1111 46.4C1111.7 47.6 1112.3 48.8 1112.9 50C1113.5 51.3 1114.1 52.5 1114.7 53.7C1115.4 54.9 1116 56.1 1116.6 57.3C1117.3 58.5 1117.9 59.7 1118.5 60.9C1119.2 62.1 1119.8 63.3 1120.4 64.5C1121.1 65.7 1121.7 66.9 1122.4 68.1C1123 69.3 1123.6 70.5 1124.3 71.7C1124.9 72.9 1125.6 74.1 1126.3 75.2C1126.9 76.4 1127.6 77.6 1128.2 78.8C1128.9 80 1129.6 81.2 1130.2 82.4C1130.9 83.5 1131.6 84.7 1132.2 85.9C1132.9 87.1 1133.6 88.3 1134.3 89.4C1134.9 90.6 1135.6 91.8 1136.3 93C1137 94.1 1137.7 95.3 1138.4 96.5C1139.1 97.6 1139.8 98.8 1140.4 100C1141.1 101.1 1141.8 102.3 1142.5 103.5C1143.2 104.6 1144 105.8 1144.7 107C1145.4 108.1 1146.1 109.3 1146.8 110.4C1147.5 111.6 1148.2 112.7 1148.9 113.9C1149.7 115 1150.4 116.2 1151.1 117.3C1151.8 118.5 1152.6 119.6 1153.3 120.8C1154 121.9 1155.1 123.6 1155.5 124.2" stroke="#0433ff" stroke-width="4.4" fill="none" stroke-linejoin="round" stroke-linecap="butt"/>
<path d="M1098.6 482.5C1098.9 481.8 1099.8 480 1100.3 478.8C1100.9 477.5 1101.5 476.3 1102.1 475.1C1102.7 473.9 1103.2 472.6 1103.8 471.4C1104.4 470.2 1105 469 1105.6 467.7C1106.2 466.5 1106.8 465.3 1107.4 464.1C1108 462.9 1108.6 461.6 1109.2 460.4C1109.8 459.2 1110.4 458 1111 456.8C1111.7 455.6 1112.3 454.4 1112.9 453.2C1113.5 451.9 1114.1 450.7 1114.7 449.5C1115.4 448.3 1116 447.1 1116.6 445.9C1117.3 444.7 1117.9 443.5 1118.5 442.3C1119.2 441.1 1119.8 439.9 1120.4 438.7C1121.1 437.5 1121.7 436.3 1122.4 435.1C1123 433.9 1123.6 432.7 1124.3 431.5C1124.9 430.3 1125.6 429.1 1126.3 428C1126.9 426.8 1127.6 425.6 1128.2 424.4C1128.9 423.2 1129.6 422 1130.2 420.8C1130.9 419.7 1131.6 418.5 1132.2 417.3C1132.9 416.1 1133.6 414.9 1134.3 413.8C1134.9 412.6 1135.6 411.4 1136.3 410.2C1137 409.1 1137.7 407.9 1138.4 406.7C1139.1 405.6 1139.8 404.4 1140.4 403.2C1141.1 402.1 1141.8 400.9 1142.5 399.7C1143.2 398.6 1144 397.4 1144.7 396.2C1145.4 395.1 1146.1 393.9 1146.8 392.8C1147.5 391.6 1148.2 390.5 1148.9 389.3C1149.7 388.2 1150.4 387 1151.1 385.9C1151.8 384.7 1152.6 383.6 1153.3 382.4C1154 381.3 1155.1 379.6 1155.5 379" stroke="#0433ff" stroke-width="4.4" fill="none" stroke-linejoin="round" stroke-linecap="butt"/>
<path d="M867.6 116.9C868.3 116.9 870.4 116.9 871.7 117C873.1 117 874.5 117.1 875.8 117.1C877.2 117.2 878.6 117.3 879.9 117.3C881.3 117.4 882.6 117.5 884 117.6C885.3 117.7 886.7 117.9 888 118C889.4 118.1 890.7 118.3 892.1 118.4C893.4 118.6 894.7 118.8 896.1 119C897.4 119.1 898.7 119.3 900.1 119.6C901.4 119.8 902.7 120 904 120.2C905.3 120.4 906.7 120.7 908 120.9C909.3 121.2 910.6 121.5 911.9 121.8C913.2 122 914.5 122.3 915.8 122.6C917.1 122.9 918.4 123.2 919.7 123.6C921 123.9 922.2 124.2 923.5 124.6C924.8 124.9 926.1 125.3 927.3 125.7C928.6 126 929.9 126.4 931.1 126.8C932.4 127.2 933.7 127.6 934.9 128C936.2 128.4 937.4 128.9 938.7 129.3C939.9 129.7 941.2 130.2 942.4 130.7C943.6 131.1 944.9 131.6 946.1 132.1C947.3 132.5 948.6 133 949.8 133.5C951 134 952.2 134.6 953.4 135.1C954.6 135.6 955.9 136.1 957.1 136.7C958.3 137.2 959.5 137.8 960.6 138.4C961.8 138.9 963 139.5 964.2 140.1C965.4 140.7 966.6 141.3 967.7 141.9C968.9 142.5 970.1 143.1 971.3 143.7C972.4 144.4 973.6 145 974.7 145.7C975.9 146.3 977 147 978.2 147.6C979.3 148.3 980.5 149 981.6 149.7C982.7 150.4 983.9 151.1 985 151.8C986.1 152.5 987.2 153.2 988.3 153.9C989.4 154.6 990.5 155.4 991.7 156.1C992.8 156.9 993.8 157.6 994.9 158.4C996 159.2 997.1 159.9 998.2 160.7C999.3 161.5 1000.4 162.3 1001.4 163.1C1002.5 163.9 1003.6 164.7 1004.6 165.5C1005.7 166.4 1006.7 167.2 1007.8 168C1008.8 168.9 1009.8 169.7 1010.9 170.6C1011.9 171.4 1012.9 172.3 1014 173.2C1015 174 1016 174.9 1017 175.8C1018 176.7 1019 177.6 1020 178.5C1021 179.4 1022 180.4 1023 181.3C1024 182.2 1025 183.1 1026 184.1C1026.9 185 1027.9 186 1028.9 186.9C1029.8 187.9 1030.8 188.9 1031.8 189.8C1032.7 190.8 1033.7 191.8 1034.6 192.7C1035.6 193.7 1036.5 194.7 1037.5 195.7C1038.4 196.7 1039.3 197.6 1040.3 198.6C1041.2 199.6 1042.2 200.6 1043.1 201.6C1044.1 202.6 1045 203.6 1045.9 204.5C1046.9 205.5 1047.8 206.5 1048.8 207.5C1049.7 208.5 1050.6 209.5 1051.6 210.4C1052.5 211.4 1053.5 212.4 1054.4 213.4C1055.4 214.3 1056.3 215.3 1057.3 216.3C1058.2 217.2 1059.2 218.2 1060.1 219.1C1061.1 220.1 1062.1 221 1063 222C1064 222.9 1065 223.8 1066 224.7C1066.9 225.7 1067.9 226.6 1068.9 227.5C1069.9 228.4 1070.9 229.3 1071.9 230.1C1072.9 231 1073.9 231.9 1075 232.7C1076 233.6 1077 234.4 1078 235.3C1079.1 236.1 1080.1 236.9 1081.2 237.7C1082.2 238.5 1083.3 239.3 1084.4 240C1085.5 240.8 1086.5 241.6 1087.6 242.3C1088.7 243 1089.8 243.8 1091 244.4C1092.1 245.1 1093.2 245.8 1094.3 246.4C1095.5 247 1096.6 247.5 1097.8 248C1099 248.4 1100.2 248.8 1101.4 249.1C1102.6 249.4 1103.4 249.6 1105 249.7C1106.6 249.8 1109.2 249.5 1111.2 249.5C1113.2 249.5 1115.2 249.8 1117 250C1118.8 250.2 1120.4 250.7 1122 250.9C1123.6 251.2 1124.9 251.2 1126.4 251.5C1127.9 251.8 1129.6 252.3 1131 252.6C1132.4 252.9 1133.7 253.2 1135 253.4C1136.3 253.6 1137.5 253.7 1139 253.7C1140.5 253.7 1142.2 253.6 1144 253.4C1145.8 253.2 1148.1 252.8 1150 252.6C1151.9 252.4 1154.6 252.2 1155.5 252.1" stroke="#0433ff" stroke-width="4.4" fill="none" stroke-linejoin="round" stroke-linecap="butt"/>
<path d="M867.6 386.3C868.3 386.3 870.4 386.3 871.7 386.2C873.1 386.2 874.5 386.1 875.8 386.1C877.2 386 878.6 385.9 879.9 385.9C881.3 385.8 882.6 385.7 884 385.6C885.3 385.5 886.7 385.3 888 385.2C889.4 385.1 890.7 384.9 892.1 384.8C893.4 384.6 894.7 384.4 896.1 384.2C897.4 384.1 898.7 383.9 900.1 383.6C901.4 383.4 902.7 383.2 904 383C905.3 382.8 906.7 382.5 908 382.3C909.3 382 910.6 381.7 911.9 381.4C913.2 381.2 914.5 380.9 915.8 380.6C917.1 380.3 918.4 380 919.7 379.6C921 379.3 922.2 379 923.5 378.6C924.8 378.3 926.1 377.9 927.3 377.5C928.6 377.2 929.9 376.8 931.1 376.4C932.4 376 933.7 375.6 934.9 375.2C936.2 374.8 937.4 374.3 938.7 373.9C939.9 373.5 941.2 373 942.4 372.5C943.6 372.1 944.9 371.6 946.1 371.1C947.3 370.7 948.6 370.2 949.8 369.7C951 369.2 952.2 368.6 953.4 368.1C954.6 367.6 955.9 367.1 957.1 366.5C958.3 366 959.5 365.4 960.6 364.8C961.8 364.3 963 363.7 964.2 363.1C965.4 362.5 966.6 361.9 967.7 361.3C968.9 360.7 970.1 360.1 971.3 359.5C972.4 358.8 973.6 358.2 974.7 357.5C975.9 356.9 977 356.2 978.2 355.6C979.3 354.9 980.5 354.2 981.6 353.5C982.7 352.8 983.9 352.1 985 351.4C986.1 350.7 987.2 350 988.3 349.3C989.4 348.6 990.5 347.8 991.7 347.1C992.8 346.3 993.8 345.6 994.9 344.8C996 344 997.1 343.3 998.2 342.5C999.3 341.7 1000.4 340.9 1001.4 340.1C1002.5 339.3 1003.6 338.5 1004.6 337.7C1005.7 336.8 1006.7 336 1007.8 335.2C1008.8 334.3 1009.8 333.5 1010.9 332.6C1011.9 331.8 1012.9 330.9 1014 330C1015 329.2 1016 328.3 1017 327.4C1018 326.5 1019 325.6 1020 324.7C1021 323.8 1022 322.8 1023 321.9C1024 321 1025 320.1 1026 319.1C1026.9 318.2 1027.9 317.2 1028.9 316.3C1029.8 315.3 1030.8 314.3 1031.8 313.4C1032.7 312.4 1033.7 311.4 1034.6 310.5C1035.6 309.5 1036.5 308.5 1037.5 307.5C1038.4 306.5 1039.3 305.6 1040.3 304.6C1041.2 303.6 1042.2 302.6 1043.1 301.6C1044.1 300.6 1045 299.6 1045.9 298.7C1046.9 297.7 1047.8 296.7 1048.8 295.7C1049.7 294.7 1050.6 293.7 1051.6 292.8C1052.5 291.8 1053.5 290.8 1054.4 289.8C1055.4 288.9 1056.3 287.9 1057.3 286.9C1058.2 286 1059.2 285 1060.1 284.1C1061.1 283.1 1062.1 282.2 1063 281.2C1064 280.3 1065 279.4 1066 278.5C1066.9 277.5 1067.9 276.6 1068.9 275.7C1069.9 274.8 1070.9 273.9 1071.9 273.1C1072.9 272.2 1073.9 271.3 1075 270.5C1076 269.6 1077 268.8 1078 267.9C1079.1 267.1 1080.1 266.3 1081.2 265.5C1082.2 264.7 1083.3 263.9 1084.4 263.2C1085.5 262.4 1086.5 261.6 1087.6 260.9C1088.7 260.2 1089.8 259.4 1091 258.8C1092.1 258.1 1093.2 257.4 1094.3 256.8C1095.5 256.2 1096.6 255.7 1097.8 255.2C1099 254.8 1100.2 254.4 1101.4 254.1C1102.6 253.8 1103.4 253.6 1105 253.5C1106.6 253.4 1109.2 253.7 1111.2 253.7C1113.2 253.7 1115.2 253.4 1117 253.2C1118.8 253 1120.4 252.5 1122 252.3C1123.6 252 1124.9 252 1126.4 251.7C1127.9 251.4 1129.6 250.9 1131 250.6C1132.4 250.3 1133.7 250 1135 249.8C1136.3 249.6 1137.5 249.5 1139 249.5C1140.5 249.5 1142.2 249.6 1144 249.8C1145.8 250 1148.1 250.4 1150 250.6C1151.9 250.8 1154.6 251 1155.5 251.1" stroke="#0433ff" stroke-width="4.4" fill="none" stroke-linejoin="round" stroke-linecap="butt"/>
<path d="M1392.3 20.8C1391.8 21 1390.3 21.7 1389.2 22.2C1388.2 22.6 1387.1 23.1 1386.1 23.5C1385 23.9 1383.9 24.3 1382.8 24.7C1381.7 25.2 1380.6 25.6 1379.5 25.9C1378.4 26.3 1377.3 26.7 1376.2 27.1C1375.1 27.5 1374 27.9 1372.8 28.3C1371.7 28.6 1370.6 29 1369.5 29.4C1368.3 29.8 1367.2 30.2 1366.1 30.6C1365 31 1363.9 31.4 1362.7 31.8C1361.6 32.2 1360.5 32.6 1359.4 33C1358.3 33.5 1357.2 33.9 1356.2 34.3C1355.1 34.8 1354 35.3 1352.9 35.8C1351.9 36.2 1350.8 36.7 1349.8 37.3C1348.8 37.8 1347.8 38.3 1346.8 38.9C1345.8 39.5 1344.8 40.1 1343.8 40.7C1342.9 41.3 1342 41.9 1341 42.6C1340.1 43.3 1339.2 44 1338.4 44.7C1337.5 45.4 1336.7 46.2 1335.9 47C1335 47.8 1334.3 48.6 1333.5 49.5C1332.8 50.4 1332 51.3 1331.3 52.2C1330.7 53.2 1330 54.1 1329.4 55.2C1328.8 56.2 1328.2 57.2 1327.6 58.3C1327.1 59.4 1326.6 60.5 1326.1 61.6C1325.6 62.7 1325.2 63.9 1324.8 65C1324.4 66.2 1324 67.3 1323.7 68.5C1323.4 69.7 1323.2 70.9 1323 72C1322.7 73.2 1322.6 74.4 1322.4 75.6C1322.3 76.7 1322.2 77.9 1322.2 79C1322.2 80.2 1322.2 81.3 1322.3 82.4C1322.3 83.6 1322.5 84.7 1322.7 85.7C1322.9 86.8 1323.1 87.8 1323.5 88.8C1323.8 89.8 1324.2 90.8 1324.7 91.7C1325.2 92.6 1325.8 93.4 1326.5 94.2C1327.2 95 1328 95.8 1328.9 96.5C1329.9 97.1 1330.9 97.7 1332 98.3C1333.1 98.8 1334.3 99.3 1335.5 99.7C1336.7 100.2 1338 100.6 1339.3 100.9C1340.5 101.2 1341.8 101.5 1343.1 101.8C1344.4 102.1 1345.6 102.3 1346.8 102.5C1348 102.7 1349.2 102.8 1350.3 103C1351.5 103.1 1352.6 103.3 1353.7 103.4C1354.9 103.5 1356 103.6 1357.1 103.7C1358.2 103.9 1359.3 104 1360.4 104.1C1361.5 104.2 1362.6 104.3 1363.7 104.5C1364.8 104.6 1365.9 104.7 1367.1 104.9C1368.2 105 1369.3 105.2 1370.4 105.4C1371.6 105.6 1372.7 105.7 1373.9 105.9C1375 106.1 1376.2 106.3 1377.3 106.5C1378.5 106.7 1379.6 106.9 1380.8 107.1C1382 107.3 1383.1 107.6 1384.3 107.8C1385.4 108 1386.6 108.2 1387.8 108.4C1389 108.7 1390.1 108.9 1391.3 109.1C1392.5 109.3 1393.6 109.6 1394.8 109.8C1396 110 1397.2 110.2 1398.3 110.4C1399.5 110.7 1400.7 110.9 1401.9 111.1C1403 111.3 1404.2 111.5 1405.4 111.7C1406.5 111.9 1407.7 112.1 1408.9 112.3C1410 112.5 1411.2 112.6 1412.4 112.8C1413.5 113 1414.7 113.1 1415.8 113.3C1417 113.5 1418.1 113.6 1419.3 113.7C1420.4 113.9 1421.6 114 1422.7 114.2C1423.9 114.3 1425 114.4 1426.1 114.5C1427.3 114.7 1428.4 114.8 1429.6 114.9C1430.7 115 1431.8 115.1 1433 115.2C1434.1 115.4 1435.2 115.5 1436.4 115.6C1437.5 115.7 1438.7 115.8 1439.8 116C1440.9 116.1 1442.1 116.2 1443.2 116.3C1444.4 116.5 1445.5 116.6 1446.7 116.8C1447.8 116.9 1449 117.1 1450.1 117.2C1451.3 117.4 1452.4 117.6 1453.6 117.7C1454.7 117.9 1455.9 118.1 1457.1 118.3C1458.2 118.5 1459.4 118.7 1460.6 118.9C1461.8 119.2 1462.9 119.4 1464.1 119.7C1465.3 119.9 1466.5 120.2 1467.7 120.5C1468.9 120.8 1470.1 121.1 1471.3 121.4C1472.5 121.7 1473.8 122.1 1475 122.4C1476.2 122.8 1477.4 123.2 1478.6 123.6C1479.7 124 1480.8 124.5 1481.7 125C1482.6 125.5 1483.5 126 1484 126.7C1484.6 127.3 1485 128 1485.1 128.8C1485.2 129.6 1485 130.4 1484.5 131.2C1484 132 1483.2 132.8 1482.2 133.6C1481.3 134.3 1480 135.1 1478.9 135.8C1477.8 136.5 1476.5 137.2 1475.4 137.9C1474.2 138.5 1473.2 139.2 1472.2 139.8C1471.1 140.4 1470.2 141.1 1469.2 141.7C1468.3 142.2 1467.3 142.8 1466.4 143.4C1465.5 144 1464.5 144.5 1463.6 145C1462.6 145.6 1461.7 146.1 1460.7 146.6C1459.7 147.1 1458.6 147.6 1457.6 148.1C1456.6 148.6 1455.5 149 1454.4 149.5C1453.4 149.9 1452.3 150.4 1451.2 150.8C1450.1 151.2 1449 151.6 1447.9 152C1446.8 152.5 1445.6 152.8 1444.5 153.2C1443.4 153.6 1442.2 154 1441.1 154.4C1439.9 154.7 1438.8 155.1 1437.6 155.4C1436.5 155.8 1435.3 156.1 1434.2 156.4C1433 156.8 1431.9 157.1 1430.7 157.4C1429.6 157.7 1428.5 158 1427.3 158.3C1426.2 158.6 1425 158.9 1423.9 159.2C1422.8 159.4 1421.6 159.7 1420.5 160C1419.4 160.3 1418.2 160.5 1417.1 160.8C1416 161 1414.9 161.3 1413.7 161.5C1412.6 161.8 1411.5 162 1410.4 162.3C1409.2 162.5 1408.1 162.7 1407 163C1405.9 163.2 1404.7 163.4 1403.6 163.7C1402.5 163.9 1401.4 164.1 1400.2 164.3C1399.1 164.6 1398 164.8 1396.8 165C1395.7 165.2 1394.6 165.4 1393.5 165.6C1392.3 165.9 1391.2 166.1 1390 166.3C1388.9 166.5 1387.8 166.7 1386.6 166.9C1385.5 167.1 1384.3 167.4 1383.2 167.6C1382 167.8 1380.9 168 1379.7 168.2C1378.6 168.4 1377.4 168.7 1376.3 168.9C1375.1 169.1 1374 169.3 1372.8 169.5C1371.7 169.7 1370.5 170 1369.3 170.2C1368.2 170.4 1367 170.6 1365.9 170.8C1364.7 171.1 1363.5 171.3 1362.4 171.5C1361.2 171.7 1360 171.9 1358.9 172.1C1357.7 172.4 1356.6 172.6 1355.4 172.8C1354.2 173 1353.1 173.2 1351.9 173.5C1350.7 173.7 1349.6 173.9 1348.4 174.1C1347.2 174.3 1346.1 174.6 1344.9 174.8C1343.7 175 1342.6 175.2 1341.4 175.5C1340.3 175.7 1339.1 175.9 1337.9 176.1C1336.8 176.3 1335.6 176.6 1334.5 176.8C1333.3 177 1332.2 177.2 1331 177.5C1329.8 177.7 1328.7 177.9 1327.5 178.1C1326.4 178.3 1325.2 178.6 1324.1 178.8C1323 179 1321.8 179.2 1320.7 179.5C1319.5 179.7 1318.4 179.9 1317.3 180.1C1316.1 180.4 1315 180.6 1313.9 180.8C1312.7 181 1311.6 181.3 1310.5 181.5C1309.4 181.7 1308.2 181.9 1307.1 182.2C1306 182.4 1304.9 182.6 1303.8 182.8C1302.7 183.1 1301.5 183.3 1300.4 183.5C1299.3 183.7 1298.2 184 1297.1 184.2C1296 184.4 1294.9 184.7 1293.7 184.9C1292.6 185.1 1291.5 185.3 1290.4 185.6C1289.3 185.8 1288.1 186 1287 186.3C1285.9 186.5 1284.8 186.7 1283.7 186.9C1282.5 187.2 1281.4 187.4 1280.3 187.6C1279.1 187.9 1278 188.1 1276.9 188.3C1275.7 188.6 1274.6 188.8 1273.4 189C1272.3 189.3 1271.1 189.5 1270 189.7C1268.8 190 1267.6 190.2 1266.5 190.4C1265.3 190.7 1264.1 190.9 1262.9 191.1C1261.7 191.4 1260.5 191.6 1259.3 191.8C1258.1 192.1 1256.9 192.3 1255.7 192.5C1254.5 192.8 1253.3 193 1252.1 193.3C1250.8 193.5 1249.6 193.7 1248.4 194C1247.1 194.3 1245.9 194.5 1244.7 194.8C1243.5 195.1 1242.3 195.4 1241.1 195.8C1240 196.2 1238.9 196.5 1237.8 197C1236.7 197.4 1235.7 197.9 1234.7 198.5C1233.7 199 1232.8 199.6 1232 200.3C1231.1 201 1230.3 201.8 1229.7 202.6C1229 203.4 1228.3 204.4 1227.8 205.4C1227.3 206.4 1226.9 207.5 1226.6 208.6C1226.2 209.7 1226 210.9 1225.9 212C1225.8 213.2 1225.8 214.3 1225.9 215.3C1226 216.3 1226.2 217.2 1226.5 218.1C1226.9 219 1227.3 219.8 1227.9 220.5C1228.5 221.3 1229.2 222 1230 222.7C1230.8 223.3 1231.7 223.9 1232.8 224.5C1233.8 225.1 1234.9 225.6 1236 226.1C1237.2 226.6 1238.4 227.1 1239.7 227.5C1240.9 227.9 1242.3 228.3 1243.6 228.7C1244.9 229.1 1246.2 229.4 1247.5 229.7C1248.8 230 1250.1 230.3 1251.4 230.6C1252.6 230.9 1253.8 231.1 1255 231.3C1256.2 231.5 1257.4 231.8 1258.5 231.9C1259.7 232.1 1260.8 232.3 1261.9 232.5C1263 232.7 1264.1 232.8 1265.2 233C1266.3 233.1 1267.4 233.2 1268.4 233.4C1269.5 233.5 1270.6 233.6 1271.7 233.8C1272.8 233.9 1273.9 234 1275.1 234.2C1276.2 234.3 1277.3 234.4 1278.4 234.5C1279.5 234.6 1280.7 234.8 1281.8 234.9C1282.9 235 1284.1 235.1 1285.2 235.2C1286.4 235.3 1287.5 235.5 1288.7 235.6C1289.8 235.7 1291 235.8 1292.1 235.9C1293.3 236 1294.4 236.1 1295.6 236.2C1296.8 236.3 1297.9 236.4 1299.1 236.5C1300.3 236.6 1301.5 236.7 1302.6 236.8C1303.8 236.9 1305 237 1306.2 237.1C1307.3 237.2 1308.5 237.3 1309.7 237.4C1310.9 237.5 1312.1 237.6 1313.2 237.7C1314.4 237.8 1315.6 237.9 1316.8 237.9C1318 238 1319.2 238.1 1320.4 238.2C1321.5 238.3 1322.7 238.4 1323.9 238.5C1325.1 238.6 1326.3 238.7 1327.4 238.8C1328.6 238.8 1329.8 238.9 1331 239C1332.2 239.1 1333.3 239.2 1334.5 239.3C1335.7 239.4 1336.9 239.5 1338 239.5C1339.2 239.6 1340.4 239.7 1341.5 239.8C1342.7 239.9 1343.9 240 1345 240.1C1346.2 240.2 1347.3 240.3 1348.5 240.3C1349.7 240.4 1350.8 240.5 1352 240.6C1353.1 240.7 1354.3 240.8 1355.4 240.9C1356.6 241 1357.7 241.1 1358.9 241.2C1360 241.3 1361.2 241.4 1362.3 241.5C1363.5 241.6 1364.6 241.7 1365.8 241.8C1366.9 241.9 1368.1 242 1369.2 242.1C1370.4 242.2 1371.5 242.3 1372.7 242.4C1373.8 242.5 1375 242.6 1376.1 242.7C1377.3 242.8 1378.4 242.9 1379.6 243C1380.7 243.1 1381.9 243.2 1383 243.3C1384.2 243.5 1385.3 243.6 1386.5 243.7C1387.6 243.8 1388.8 243.9 1390 244.1C1391.1 244.2 1392.3 244.3 1393.4 244.4C1394.6 244.6 1395.8 244.7 1396.9 244.8C1398.1 244.9 1399.3 245.1 1400.4 245.2C1401.6 245.4 1402.8 245.5 1403.9 245.6C1405.1 245.8 1406.3 245.9 1407.5 246.1C1408.7 246.2 1409.9 246.4 1411 246.5C1412.2 246.7 1413.4 246.8 1414.6 247C1415.8 247.1 1417 247.3 1418.2 247.5C1419.4 247.6 1420.6 247.8 1421.8 248C1423 248.1 1424.2 248.3 1425.4 248.5C1426.6 248.6 1427.7 248.8 1428.9 249C1430.1 249.2 1431.3 249.3 1432.4 249.5C1433.6 249.7 1434.7 249.9 1435.8 250.1C1437 250.2 1438.1 250.4 1439.2 250.6C1440.3 250.8 1441.4 251 1442.4 251.2C1443.5 251.3 1444.8 251.5 1445.4 251.7C1446 251.9 1446.3 252.1 1446 252.2C1445.7 252.4 1444.7 252.6 1443.8 252.8C1442.8 253 1441.5 253.1 1440.3 253.3C1439 253.5 1437.5 253.7 1436.2 253.8C1434.8 254 1433.3 254.2 1432 254.4C1430.6 254.5 1429.3 254.7 1428 254.9C1426.8 255 1425.6 255.2 1424.4 255.4C1423.3 255.6 1422.1 255.7 1421 255.9C1419.9 256.1 1418.9 256.2 1417.8 256.4C1416.7 256.5 1415.6 256.7 1414.5 256.9C1413.5 257 1412.4 257.2 1411.3 257.3C1410.2 257.5 1409 257.7 1407.9 257.8C1406.8 258 1405.6 258.1 1404.5 258.3C1403.4 258.4 1402.2 258.6 1401 258.7C1399.9 258.9 1398.7 259 1397.5 259.1C1396.3 259.3 1395.2 259.4 1394 259.6C1392.8 259.7 1391.6 259.8 1390.4 260C1389.3 260.1 1388.1 260.2 1386.9 260.4C1385.7 260.5 1384.5 260.6 1383.4 260.8C1382.2 260.9 1381 261 1379.8 261.1C1378.6 261.3 1377.5 261.4 1376.3 261.5C1375.1 261.6 1374 261.7 1372.8 261.9C1371.6 262 1370.5 262.1 1369.3 262.2C1368.1 262.3 1366.9 262.4 1365.8 262.5C1364.6 262.6 1363.5 262.7 1362.3 262.9C1361.1 263 1360 263.1 1358.8 263.2C1357.6 263.3 1356.5 263.4 1355.3 263.5C1354.2 263.6 1353 263.7 1351.8 263.8C1350.7 263.9 1349.5 264 1348.4 264.1C1347.2 264.2 1346 264.3 1344.9 264.4C1343.7 264.5 1342.6 264.6 1341.4 264.6C1340.2 264.7 1339.1 264.8 1337.9 264.9C1336.8 265 1335.6 265.1 1334.5 265.2C1333.3 265.3 1332.1 265.4 1331 265.5C1329.8 265.6 1328.7 265.6 1327.5 265.7C1326.4 265.8 1325.2 265.9 1324 266C1322.9 266.1 1321.7 266.2 1320.6 266.3C1319.4 266.3 1318.2 266.4 1317.1 266.5C1315.9 266.6 1314.7 266.7 1313.6 266.8C1312.4 266.8 1311.3 266.9 1310.1 267C1308.9 267.1 1307.8 267.2 1306.6 267.3C1305.4 267.4 1304.3 267.4 1303.1 267.5C1301.9 267.6 1300.8 267.7 1299.6 267.8C1298.4 267.9 1297.2 268 1296.1 268C1294.9 268.1 1293.7 268.2 1292.6 268.3C1291.4 268.4 1290.2 268.5 1289 268.6C1287.8 268.7 1286.7 268.8 1285.5 268.9C1284.3 268.9 1283.1 269 1282 269.1C1280.8 269.3 1279.6 269.4 1278.4 269.5C1277.3 269.6 1276.1 269.7 1274.9 269.8C1273.8 269.9 1272.6 270.1 1271.4 270.2C1270.3 270.4 1269.1 270.5 1268 270.7C1266.8 270.8 1265.7 271 1264.5 271.1C1263.4 271.3 1262.2 271.5 1261.1 271.7C1260 271.9 1258.8 272.1 1257.7 272.3C1256.6 272.5 1255.5 272.7 1254.3 272.9C1253.2 273.2 1252.1 273.4 1251 273.7C1249.9 273.9 1248.8 274.2 1247.7 274.5C1246.6 274.8 1245.5 275.1 1244.4 275.4C1243.3 275.7 1242.2 276.1 1241.1 276.4C1239.9 276.8 1238.7 277.1 1237.5 277.5C1236.3 277.9 1235.1 278.3 1233.8 278.7C1232.6 279.2 1231.3 279.6 1230.2 280.1C1229.1 280.7 1227.9 281.2 1227 281.8C1226 282.4 1225.1 283.1 1224.4 283.9C1223.7 284.6 1223.2 285.5 1222.9 286.4C1222.6 287.3 1222.5 288.3 1222.6 289.4C1222.6 290.4 1222.8 291.5 1223.1 292.5C1223.4 293.5 1223.9 294.6 1224.4 295.6C1224.9 296.6 1225.5 297.6 1226.2 298.5C1226.8 299.4 1227.6 300.3 1228.3 301.1C1229.1 302 1230 302.8 1230.9 303.5C1231.8 304.3 1232.7 305 1233.7 305.7C1234.7 306.4 1235.8 307.1 1236.8 307.7C1237.9 308.3 1239 308.9 1240.1 309.4C1241.2 310 1242.4 310.5 1243.6 311C1244.7 311.5 1245.9 312 1247 312.4C1248.2 312.9 1249.4 313.3 1250.6 313.7C1251.7 314.1 1252.9 314.5 1254.1 314.8C1255.2 315.2 1256.4 315.5 1257.5 315.8C1258.7 316.2 1259.8 316.5 1261 316.7C1262.1 317 1263.2 317.3 1264.4 317.5C1265.5 317.8 1266.6 318 1267.8 318.3C1268.9 318.5 1270 318.7 1271.2 318.9C1272.3 319.1 1273.4 319.3 1274.5 319.5C1275.7 319.7 1276.8 319.9 1277.9 320.1C1279 320.3 1280.2 320.5 1281.3 320.7C1282.4 320.8 1283.5 321 1284.7 321.2C1285.8 321.4 1286.9 321.6 1288 321.7C1289.2 321.9 1290.3 322.1 1291.4 322.3C1292.6 322.5 1293.7 322.7 1294.8 322.9C1296 323.1 1297.1 323.2 1298.2 323.4C1299.4 323.6 1300.5 323.8 1301.6 324C1302.8 324.2 1303.9 324.4 1305.1 324.6C1306.2 324.8 1307.3 325 1308.5 325.2C1309.6 325.4 1310.8 325.6 1311.9 325.8C1313 326 1314.2 326.2 1315.3 326.4C1316.5 326.6 1317.6 326.8 1318.8 327C1319.9 327.2 1321.1 327.4 1322.2 327.6C1323.4 327.9 1324.5 328.1 1325.7 328.3C1326.8 328.5 1328 328.7 1329.1 328.9C1330.3 329.1 1331.4 329.3 1332.6 329.5C1333.7 329.7 1334.9 329.9 1336 330.1C1337.2 330.3 1338.3 330.6 1339.5 330.8C1340.6 331 1341.8 331.2 1342.9 331.4C1344.1 331.6 1345.3 331.8 1346.4 332C1347.6 332.2 1348.7 332.4 1349.9 332.6C1351 332.8 1352.2 333.1 1353.4 333.3C1354.5 333.5 1355.7 333.7 1356.8 333.9C1358 334.1 1359.1 334.3 1360.3 334.5C1361.5 334.7 1362.6 334.9 1363.8 335.1C1364.9 335.3 1366.1 335.5 1367.3 335.7C1368.4 335.9 1369.6 336.1 1370.7 336.3C1371.9 336.5 1373.1 336.7 1374.2 336.9C1375.4 337.1 1376.5 337.3 1377.7 337.5C1378.9 337.7 1380 337.9 1381.2 338.1C1382.3 338.3 1383.5 338.5 1384.6 338.7C1385.8 338.9 1387 339 1388.1 339.2C1389.3 339.4 1390.4 339.6 1391.6 339.8C1392.8 340 1393.9 340.2 1395.1 340.3C1396.2 340.5 1397.4 340.7 1398.5 340.9C1399.7 341 1400.9 341.2 1402 341.4C1403.2 341.6 1404.3 341.8 1405.5 341.9C1406.6 342.1 1407.8 342.3 1408.9 342.5C1410.1 342.7 1411.2 342.9 1412.4 343.1C1413.5 343.3 1414.7 343.5 1415.8 343.7C1417 343.9 1418.1 344.1 1419.3 344.3C1420.4 344.6 1421.5 344.8 1422.7 345C1423.8 345.3 1424.9 345.5 1426.1 345.8C1427.2 346 1428.3 346.3 1429.4 346.6C1430.6 346.9 1431.7 347.2 1432.8 347.5C1433.9 347.8 1435 348.1 1436.1 348.5C1437.2 348.8 1438.4 349.2 1439.5 349.5C1440.6 349.9 1441.6 350.3 1442.7 350.7C1443.8 351.1 1444.9 351.5 1446 352C1447.1 352.4 1448.2 352.9 1449.2 353.4C1450.3 353.8 1451.4 354.3 1452.4 354.8C1453.5 355.3 1454.5 355.9 1455.6 356.4C1456.6 357 1457.7 357.5 1458.7 358.1C1459.7 358.6 1460.7 359.2 1461.8 359.8C1462.8 360.4 1463.8 361 1464.8 361.6C1465.7 362.2 1466.7 362.8 1467.7 363.4C1468.7 364 1469.7 364.7 1470.7 365.3C1471.6 365.9 1472.6 366.6 1473.6 367.2C1474.6 367.9 1475.7 368.5 1476.7 369.2C1477.7 369.8 1478.8 370.5 1479.9 371.1C1481 371.8 1482.2 372.4 1483.2 373.1C1484.2 373.7 1485.3 374.4 1485.8 375C1486.3 375.6 1486.4 376.3 1485.9 376.9C1485.5 377.5 1484.3 378.1 1483.3 378.6C1482.3 379.2 1481 379.7 1479.9 380.2C1478.8 380.7 1477.7 381.1 1476.6 381.6C1475.5 382 1474.4 382.4 1473.2 382.8C1472.1 383.2 1471 383.6 1469.9 383.9C1468.7 384.3 1467.6 384.6 1466.5 384.9C1465.3 385.2 1464.2 385.5 1463.1 385.8C1461.9 386 1460.8 386.3 1459.6 386.5C1458.5 386.7 1457.3 387 1456.2 387.2C1455 387.4 1453.9 387.6 1452.7 387.7C1451.6 387.9 1450.4 388.1 1449.2 388.3C1448.1 388.4 1446.9 388.6 1445.7 388.7C1444.5 388.9 1443.4 389 1442.2 389.1C1441 389.3 1439.8 389.4 1438.6 389.5C1437.5 389.6 1436.3 389.8 1435.1 389.9C1433.9 390 1432.7 390.1 1431.6 390.2C1430.4 390.4 1429.2 390.5 1428.1 390.6C1426.9 390.7 1425.7 390.9 1424.6 391C1423.4 391.1 1422.2 391.3 1421.1 391.4C1419.9 391.6 1418.8 391.7 1417.6 391.9C1416.5 392 1415.4 392.2 1414.2 392.4C1413.1 392.5 1411.9 392.7 1410.8 392.9C1409.7 393 1408.5 393.2 1407.4 393.4C1406.3 393.5 1405.1 393.7 1404 393.9C1402.9 394.1 1401.7 394.3 1400.6 394.4C1399.5 394.6 1398.4 394.8 1397.2 395C1396.1 395.2 1395 395.4 1393.8 395.6C1392.7 395.8 1391.6 396 1390.4 396.2C1389.3 396.3 1388.2 396.5 1387 396.7C1385.9 396.9 1384.8 397.1 1383.6 397.3C1382.5 397.5 1381.3 397.7 1380.2 397.9C1379 398.1 1377.9 398.3 1376.7 398.5C1375.6 398.7 1374.4 398.9 1373.3 399.1C1372.1 399.3 1370.9 399.5 1369.8 399.6C1368.6 399.8 1367.4 400 1366.2 400.2C1365.1 400.4 1363.9 400.6 1362.7 400.8C1361.5 400.9 1360.3 401.1 1359.1 401.3C1357.9 401.5 1356.7 401.7 1355.5 401.8C1354.2 402 1353 402.2 1351.8 402.4C1350.6 402.5 1349.4 402.7 1348.2 402.9C1347 403.2 1345.8 403.4 1344.6 403.6C1343.4 403.9 1342.3 404.2 1341.1 404.5C1340 404.9 1338.9 405.2 1337.9 405.6C1336.8 406.1 1335.8 406.5 1334.8 407.1C1333.8 407.6 1332.9 408.2 1332 408.9C1331.1 409.5 1330.3 410.3 1329.5 411.1C1328.7 411.9 1328 412.8 1327.4 413.7C1326.7 414.7 1326.2 415.6 1325.7 416.7C1325.2 417.7 1324.8 418.8 1324.4 419.9C1324.1 421 1323.9 422.1 1323.7 423.2C1323.6 424.4 1323.5 425.5 1323.5 426.7C1323.5 427.8 1323.6 429 1323.7 430.2C1323.9 431.3 1324.1 432.5 1324.4 433.7C1324.7 434.8 1325 436 1325.4 437.1C1325.8 438.2 1326.3 439.4 1326.8 440.4C1327.3 441.5 1327.9 442.6 1328.5 443.6C1329.1 444.6 1329.8 445.6 1330.5 446.5C1331.2 447.5 1331.9 448.4 1332.7 449.3C1333.4 450.1 1334.2 451 1335.1 451.8C1335.9 452.6 1336.8 453.3 1337.6 454.1C1338.5 454.8 1339.5 455.5 1340.4 456.2C1341.3 456.8 1342.3 457.5 1343.3 458.1C1344.3 458.7 1345.3 459.3 1346.3 459.9C1347.3 460.5 1348.4 461.1 1349.4 461.6C1350.5 462.1 1351.5 462.6 1352.6 463.1C1353.7 463.6 1354.8 464.1 1355.8 464.6C1356.9 465.1 1358 465.5 1359.1 465.9C1360.2 466.4 1361.3 466.8 1362.4 467.2C1363.5 467.7 1364.6 468.1 1365.7 468.5C1366.8 468.9 1367.9 469.3 1369 469.7C1370.1 470.1 1371.2 470.5 1372.3 470.9C1373.3 471.3 1374.4 471.7 1375.5 472.1C1376.6 472.5 1377.7 472.9 1378.8 473.3C1379.9 473.7 1381 474.1 1382 474.5C1383.1 474.9 1384.2 475.3 1385.3 475.8C1386.4 476.2 1387.4 476.7 1388.5 477.1C1389.6 477.6 1390.6 478.1 1391.7 478.5C1392.7 479 1393.8 479.5 1394.9 480.1C1395.9 480.6 1397.5 481.4 1398 481.7" stroke="#0433ff" stroke-width="4.4" fill="none" stroke-linejoin="round" stroke-linecap="butt"/>
<text x="761.5" y="32.2" font-family='"Liberation Serif", serif' font-size="36" text-anchor="start" >(B)</text>
<text x="880.2" y="226.7" font-family='"Liberation Serif", serif' font-size="35" text-anchor="start" letter-spacing="0.85" font-weight="bold" style="fill:#0433ff;stroke:#0433ff">(5ZGNR)</text>
<text x="991.3" y="525.7" font-family='"Liberation Serif", serif' font-size="32.6" text-anchor="middle" >Wavevector</text>
<text x="1347.5" y="525.7" font-family='"Liberation Serif", serif' font-size="32.65" text-anchor="middle" >DOS (Arb. Units)</text>
<text transform="translate(787.5 251.9) rotate(-90)" font-family='"Liberation Serif", serif' font-size="32.6" text-anchor="middle">E-E<tspan font-size="23" dy="6.3">F</tspan><tspan dy="-6.3"> (eV)</tspan></text>
<path d="M194 1040.2V586.4H709.4V1040.2 M171.2 1017.4H711" stroke="#000" stroke-width="3.3" fill="none" stroke-linejoin="miter"/>
<path d="M171.2 939H194M171.2 860.7H194M171.2 782.3H194M171.2 703.9H194M171.2 625.5H194M194 1017.4V1040.2M322.9 1017.4V1040.2M451.7 1017.4V1040.2M580.5 1017.4V1040.2M709.4 1017.4V1040.2" stroke="#000" stroke-width="3.3" fill="none"/>
<path d="M194 860.7L271.2 860.7L272 939L631.4 939L632.1 860.7L709.4 860.7" stroke="#ff0000" stroke-width="6" fill="none" stroke-linejoin="bevel" stroke-linecap="butt"/>
<path d="M194 703.9L236.2 703.9L236.8 625.5L276.9 625.5L277.7 782.3L325 782.3L325.8 939L577.9 939L578.6 782.3L625.4 782.3L626.1 625.5L666 625.5L666.8 703.9L709.4 703.9" stroke="#0433ff" stroke-width="6" fill="none" stroke-linejoin="bevel" stroke-linecap="butt"/>
<text x="160.5" y="1031.9" font-family='"Liberation Serif", serif' font-size="42.6" text-anchor="end" >0</text>
<text x="160.5" y="953.5" font-family='"Liberation Serif", serif' font-size="42.6" text-anchor="end" >1</text>
<text x="160.5" y="875.2" font-family='"Liberation Serif", serif' font-size="42.6" text-anchor="end" >2</text>
<text x="160.5" y="796.8" font-family='"Liberation Serif", serif' font-size="42.6" text-anchor="end" >3</text>
<text x="160.5" y="718.4" font-family='"Liberation Serif", serif' font-size="42.6" text-anchor="end" >4</text>
<text x="160.5" y="640" font-family='"Liberation Serif", serif' font-size="42.6" text-anchor="end" >5</text>
<text x="193.5" y="1090.7" font-family='"Liberation Serif", serif' font-size="42.6" text-anchor="middle" >-4</text>
<text x="322.4" y="1090.7" font-family='"Liberation Serif", serif' font-size="42.6" text-anchor="middle" >-2</text>
<text x="451.7" y="1090.7" font-family='"Liberation Serif", serif' font-size="42.6" text-anchor="middle" >0</text>
<text x="580.5" y="1090.7" font-family='"Liberation Serif", serif' font-size="42.6" text-anchor="middle" >2</text>
<text x="709.4" y="1090.7" font-family='"Liberation Serif", serif' font-size="42.6" text-anchor="middle" >4</text>
<text x="85" y="580" font-family='"Liberation Serif", serif' font-size="36" text-anchor="start" >(C)</text>
<text x="451.5" y="1153.2" font-family='"Liberation Serif", serif' font-size="42.5" text-anchor="middle">E-E<tspan font-size="30" dy="10.8">F</tspan><tspan dy="-10.8"> (eV)</tspan></text>
<text transform="translate(97 802) rotate(-90)" font-family='"Liberation Serif", serif' font-size="42.5" text-anchor="middle">Conductance (2e<tspan font-size="31" dy="-27">2</tspan><tspan dy="27">/h)</tspan></text>
<text x="414" y="805.4" font-family='"Liberation Serif", serif' font-size="36.2"><tspan font-style="italic">t</tspan> ON</text>
<text x="414" y="847.5" font-family='"Liberation Serif", serif' font-size="36.2"><tspan font-style="italic">t’</tspan> OFF</text>
<text x="414" y="890.9" font-family='"Liberation Serif", serif' font-size="36.2"><tspan font-style="italic">t’’</tspan> OFF</text>
<path d="M335 668.7H414.8" stroke="#ff0000" stroke-width="6" fill="none"/>
<path d="M335 717.7H414.8" stroke="#0433ff" stroke-width="6" fill="none"/>
<text x="431.8" y="681.8" font-family='"Liberation Serif", serif' font-size="42.6" text-anchor="start" >2ZGNR</text>
<text x="431.8" y="731.1" font-family='"Liberation Serif", serif' font-size="42.6" text-anchor="start" >5ZGNR</text>
<path d="M914.6 1040.9V587.2H1429.9V1040.9 M891.8 1018.1H1431.6" stroke="#000" stroke-width="3.3" fill="none" stroke-linejoin="miter"/>
<path d="M891.8 939.8H914.6M891.8 861.4H914.6M891.8 783.1H914.6M891.8 704.7H914.6M891.8 626.4H914.6M914.6 1018.1V1040.9M1043.4 1018.1V1040.9M1172.2 1018.1V1040.9M1301.1 1018.1V1040.9M1429.9 1018.1V1040.9" stroke="#000" stroke-width="3.3" fill="none"/>
<path d="M914.6 861.4L990.4 861.4L991.1 939.8L1351.7 939.8L1352.3 861.4L1429.9 861.4" stroke="#ff0000" stroke-width="6" fill="none" stroke-linejoin="bevel" stroke-linecap="butt"/>
<path d="M914.6 704.7L949.9 704.7L950.6 626.4L988.6 626.4L989.4 783.1L1035.6 783.1L1036.2 939.8L1287.2 939.8L1287.8 783.1L1337.2 783.1L1337.8 626.4L1380.5 626.4L1381.1 704.7L1429.9 704.7" stroke="#0433ff" stroke-width="6" fill="none" stroke-linejoin="bevel" stroke-linecap="butt"/>
<text x="881.1" y="1032.6" font-family='"Liberation Serif", serif' font-size="42.6" text-anchor="end" >0</text>
<text x="881.1" y="954.3" font-family='"Liberation Serif", serif' font-size="42.6" text-anchor="end" >1</text>
<text x="881.1" y="875.9" font-family='"Liberation Serif", serif' font-size="42.6" text-anchor="end" >2</text>
<text x="881.1" y="797.6" font-family='"Liberation Serif", serif' font-size="42.6" text-anchor="end" >3</text>
<text x="881.1" y="719.2" font-family='"Liberation Serif", serif' font-size="42.6" text-anchor="end" >4</text>
<text x="881.1" y="640.9" font-family='"Liberation Serif", serif' font-size="42.6" text-anchor="end" >5</text>
<text x="914.1" y="1091.4" font-family='"Liberation Serif", serif' font-size="42.6" text-anchor="middle" >-4</text>
<text x="1042.9" y="1091.4" font-family='"Liberation Serif", serif' font-size="42.6" text-anchor="middle" >-2</text>
<text x="1172.2" y="1091.4" font-family='"Liberation Serif", serif' font-size="42.6" text-anchor="middle" >0</text>
<text x="1301.1" y="1091.4" font-family='"Liberation Serif", serif' font-size="42.6" text-anchor="middle" >2</text>
<text x="1429.9" y="1091.4" font-family='"Liberation Serif", serif' font-size="42.6" text-anchor="middle" >4</text>
<text x="824" y="579" font-family='"Liberation Serif", serif' font-size="36" text-anchor="start" >(D)</text>
<text x="1172.4" y="1154.2" font-family='"Liberation Serif", serif' font-size="42.5" text-anchor="middle">E-E<tspan font-size="30" dy="10.8">F</tspan><tspan dy="-10.8"> (eV)</tspan></text>
<text transform="translate(817 802) rotate(-90)" font-family='"Liberation Serif", serif' font-size="42.5" text-anchor="middle">Conductance (2e<tspan font-size="31" dy="-27">2</tspan><tspan dy="27">/h)</tspan></text>
<text x="1131.5" y="754.3" font-family='"Liberation Serif", serif' font-size="36.2"><tspan font-style="italic">t</tspan> ON</text>
<text x="1131.5" y="796.3" font-family='"Liberation Serif", serif' font-size="36.2"><tspan font-style="italic">t’</tspan> ON</text>
<text x="1131.5" y="838.3" font-family='"Liberation Serif", serif' font-size="36.2"><tspan font-style="italic">t’’</tspan> OFF</text>
<path d="M196.6 1640.4V1186.1H712.4V1617.6 M173.8 1617.6H714" stroke="#000" stroke-width="3.3" fill="none" stroke-linejoin="miter"/>
<path d="M173.8 1539.1H196.6M173.8 1460.7H196.6M173.8 1382.2H196.6M173.8 1303.8H196.6M173.8 1225.3H196.6M196.6 1617.6V1640.4M323.2 1617.6V1640.4M449.8 1617.6V1640.4M576.4 1617.6V1640.4M703 1617.6V1640.4" stroke="#000" stroke-width="3.3" fill="none"/>
<path d="M196.6 1539.1L208.7 1539.1L209.3 1460.7L325 1460.7L325.8 1539.1L423.1 1539.1L423.9 1460.7L475.8 1460.7L476.5 1539.1L573.4 1539.1L574.1 1460.7L689.8 1460.7L690.5 1539.1L702.7 1539.1" stroke="#ff0000" stroke-width="6" fill="none" stroke-linejoin="bevel" stroke-linecap="butt"/>
<path d="M206.5 1303.8L305.2 1303.8L306 1225.3L322.4 1225.3L323.2 1382.2L330.1 1382.2L330.9 1225.3L344.8 1225.3L345.6 1382.2L367.2 1382.2L368 1539.1L446.8 1539.1L447.9 1225.3L451.7 1225.3L452.6 1539.1L529.5 1539.1L530.2 1382.2L555.1 1382.2L555.9 1225.3L569.6 1225.3L570.4 1382.2L578 1382.2L578.8 1225.3L600.9 1225.3L601.6 1303.8L712.4 1303.8" stroke="#0433ff" stroke-width="6" fill="none" stroke-linejoin="bevel" stroke-linecap="butt"/>
<text x="163.1" y="1632.1" font-family='"Liberation Serif", serif' font-size="42.6" text-anchor="end" >0</text>
<text x="163.1" y="1553.6" font-family='"Liberation Serif", serif' font-size="42.6" text-anchor="end" >1</text>
<text x="163.1" y="1475.2" font-family='"Liberation Serif", serif' font-size="42.6" text-anchor="end" >2</text>
<text x="163.1" y="1396.7" font-family='"Liberation Serif", serif' font-size="42.6" text-anchor="end" >3</text>
<text x="163.1" y="1318.3" font-family='"Liberation Serif", serif' font-size="42.6" text-anchor="end" >4</text>
<text x="163.1" y="1239.8" font-family='"Liberation Serif", serif' font-size="42.6" text-anchor="end" >5</text>
<text x="196.1" y="1690.9" font-family='"Liberation Serif", serif' font-size="42.6" text-anchor="middle" >-4</text>
<text x="322.7" y="1690.9" font-family='"Liberation Serif", serif' font-size="42.6" text-anchor="middle" >-2</text>
<text x="449.8" y="1690.9" font-family='"Liberation Serif", serif' font-size="42.6" text-anchor="middle" >0</text>
<text x="576.4" y="1690.9" font-family='"Liberation Serif", serif' font-size="42.6" text-anchor="middle" >2</text>
<text x="703" y="1690.9" font-family='"Liberation Serif", serif' font-size="42.6" text-anchor="middle" >4</text>
<text x="98" y="1171.3" font-family='"Liberation Serif", serif' font-size="36" text-anchor="start" >(E)</text>
<text x="455" y="1752.9" font-family='"Liberation Serif", serif' font-size="42.5" text-anchor="middle">E-E<tspan font-size="30" dy="10.8">F</tspan><tspan dy="-10.8"> (eV)</tspan></text>
<text transform="translate(99.5 1403) rotate(-90)" font-family='"Liberation Serif", serif' font-size="42.5" text-anchor="middle">Conductance (2e<tspan font-size="31" dy="-27">2</tspan><tspan dy="27">/h)</tspan></text>
<text x="294.1" y="1586.7" font-family='"Liberation Serif", serif' font-size="36.2"><tspan font-style="italic">t</tspan> ON</text>
<text x="412.3" y="1586.7" font-family='"Liberation Serif", serif' font-size="36.2"><tspan font-style="italic">t’</tspan> ON</text>
<text x="533.2" y="1586.7" font-family='"Liberation Serif", serif' font-size="36.2"><tspan font-style="italic">t’’</tspan> ON</text>
<path d="M916 1643.2V1188.6H1432.2V1643.2 M893.2 1620.4H1433.9" stroke="#000" stroke-width="3.3" fill="none" stroke-linejoin="miter"/>
<path d="M893.2 1541.9H916M893.2 1463.4H916M893.2 1384.9H916M893.2 1306.4H916M893.2 1227.9H916M916 1620.4V1643.2M1045 1620.4V1643.2M1174.1 1620.4V1643.2M1303.1 1620.4V1643.2M1432.2 1620.4V1643.2" stroke="#000" stroke-width="3.3" fill="none"/>
<path d="M916 1541.9L937.9 1541.9L938.6 1463.4L1046.2 1463.4L1046.9 1541.9L1146.2 1541.9L1146.8 1463.4L1200 1463.4L1200.6 1541.9L1300.4 1541.9L1301 1463.4L1428.4 1463.4L1429 1541.9L1432.2 1541.9" stroke="#ff0000" stroke-width="6" fill="none" stroke-linejoin="bevel" stroke-linecap="butt"/>
<path d="M916 1306.4L1022.4 1306.4L1023.1 1227.9L1043.1 1227.9L1043.8 1384.9L1052 1384.9L1052.6 1227.9L1066.2 1227.9L1066.9 1384.9L1091.4 1384.9L1092 1541.9L1171 1541.9L1172.2 1227.9L1176 1227.9L1177.2 1541.9L1256.6 1541.9L1257.2 1384.9L1280.9 1384.9L1281.5 1227.9L1295.4 1227.9L1296 1384.9L1303.9 1384.9L1304.5 1227.9L1325.2 1227.9L1325.8 1306.4L1432.2 1306.4" stroke="#0433ff" stroke-width="6" fill="none" stroke-linejoin="bevel" stroke-linecap="butt"/>
<text x="882.5" y="1634.9" font-family='"Liberation Serif", serif' font-size="42.6" text-anchor="end" >0</text>
<text x="882.5" y="1556.4" font-family='"Liberation Serif", serif' font-size="42.6" text-anchor="end" >1</text>
<text x="882.5" y="1477.9" font-family='"Liberation Serif", serif' font-size="42.6" text-anchor="end" >2</text>
<text x="882.5" y="1399.4" font-family='"Liberation Serif", serif' font-size="42.6" text-anchor="end" >3</text>
<text x="882.5" y="1320.9" font-family='"Liberation Serif", serif' font-size="42.6" text-anchor="end" >4</text>
<text x="882.5" y="1242.4" font-family='"Liberation Serif", serif' font-size="42.6" text-anchor="end" >5</text>
<text x="915.5" y="1693.7" font-family='"Liberation Serif", serif' font-size="42.6" text-anchor="middle" >-4</text>
<text x="1044.5" y="1693.7" font-family='"Liberation Serif", serif' font-size="42.6" text-anchor="middle" >-2</text>
<text x="1174.1" y="1693.7" font-family='"Liberation Serif", serif' font-size="42.6" text-anchor="middle" >0</text>
<text x="1303.1" y="1693.7" font-family='"Liberation Serif", serif' font-size="42.6" text-anchor="middle" >2</text>
<text x="1432.2" y="1693.7" font-family='"Liberation Serif", serif' font-size="42.6" text-anchor="middle" >4</text>
<text x="837" y="1171.3" font-family='"Liberation Serif", serif' font-size="36" text-anchor="start" >(F)</text>
<text x="1174" y="1755.9" font-family='"Liberation Serif", serif' font-size="42.5" text-anchor="middle">E-E<tspan font-size="30" dy="10.8">F</tspan><tspan dy="-10.8"> (eV)</tspan></text>
<text transform="translate(818.3 1404.7) rotate(-90)" font-family='"Liberation Serif", serif' font-size="42.1" text-anchor="middle">Conducdance (2e<tspan font-size="31" dy="-27">2</tspan><tspan dy="27">/h)</tspan></text>
<text x="997.8" y="1591.5" font-family='"Liberation Serif", serif' font-size="36.2"><tspan font-style="italic">t</tspan> ON</text>
<text x="1115.5" y="1591.5" font-family='"Liberation Serif", serif' font-size="36.2"><tspan font-style="italic">t’</tspan> OFF</text>
<text x="1251.2" y="1591.5" font-family='"Liberation Serif", serif' font-size="36.2"><tspan font-style="italic">t’’</tspan> ON</text>
</svg></body></html>
